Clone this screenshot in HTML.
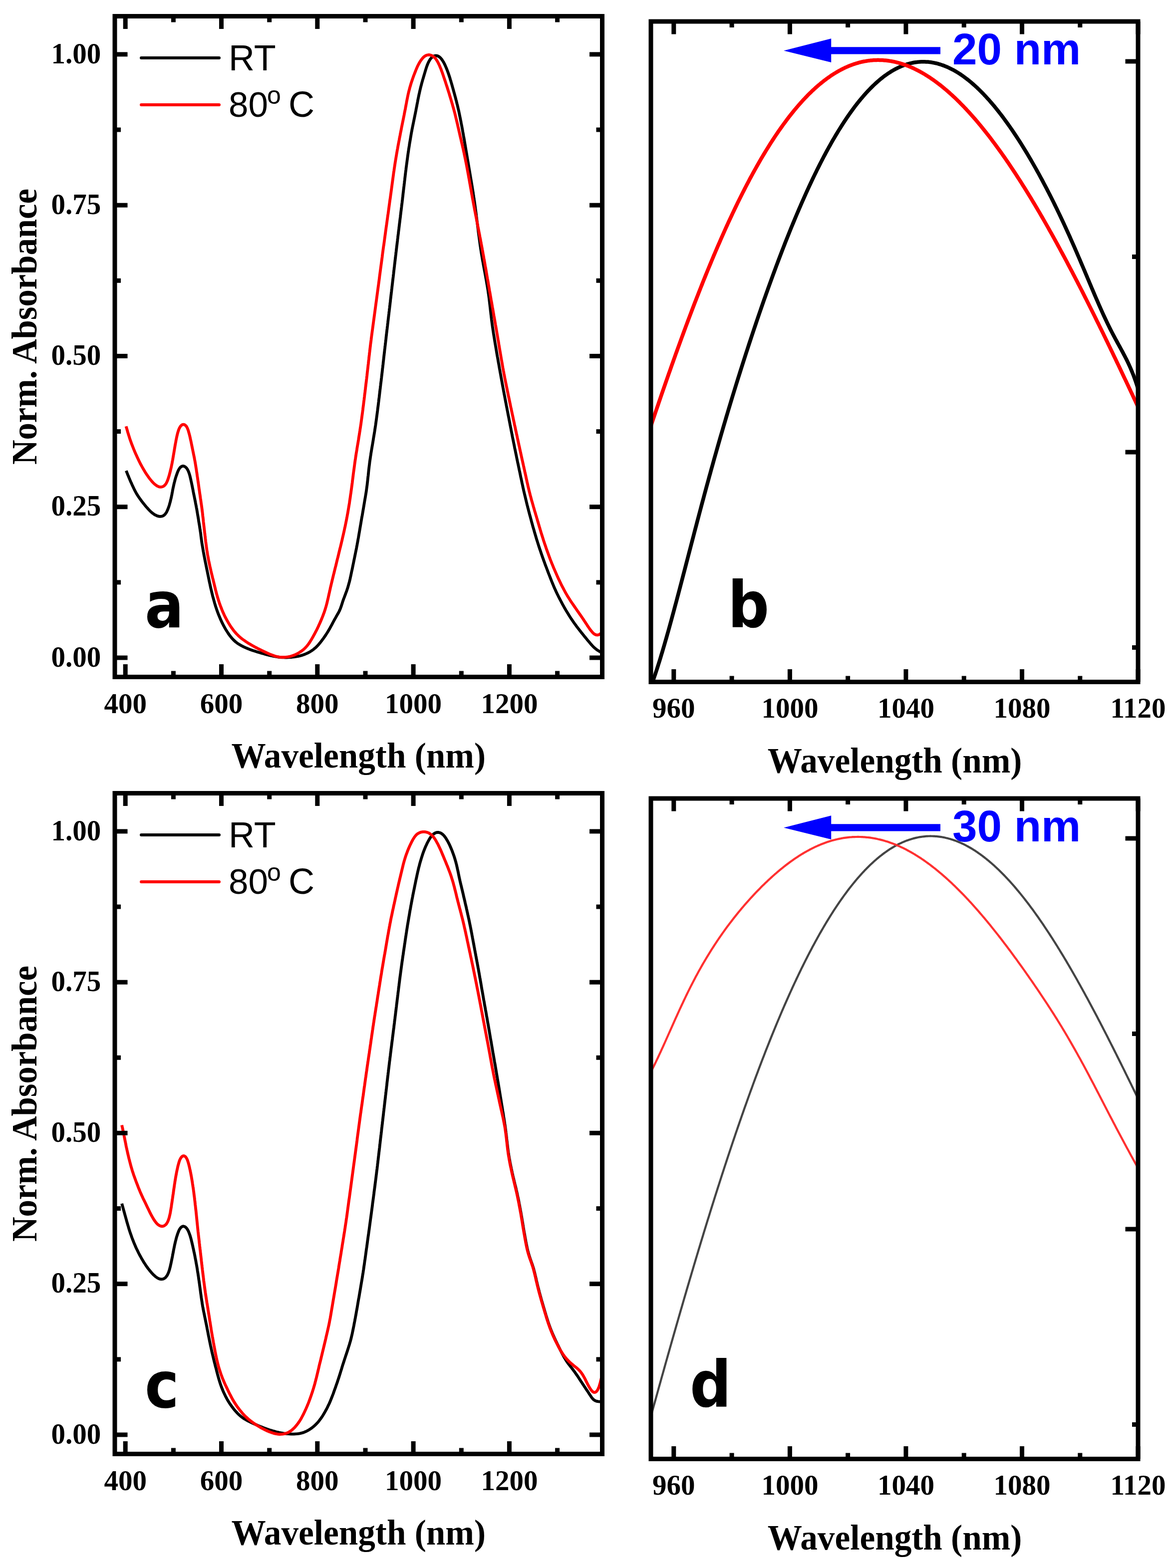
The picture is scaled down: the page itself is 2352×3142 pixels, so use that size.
<!DOCTYPE html><html><head><meta charset="utf-8"><style>html,body{margin:0;padding:0;background:#fff;}svg{display:block}</style></head><body><svg xmlns="http://www.w3.org/2000/svg" width="2352" height="3142" viewBox="0 0 2352 3142">
<rect width="100%" height="100%" fill="#fff"/>
<defs>
<clipPath id="ca"><rect x="230.0" y="32.5" width="976.5" height="1324.0"/></clipPath>
<clipPath id="cb"><rect x="1304.0" y="43.0" width="976.0" height="1323.5"/></clipPath>
<clipPath id="cc"><rect x="230.0" y="1589.5" width="976.5" height="1324.0"/></clipPath>
<clipPath id="cd"><rect x="1304.0" y="1600.0" width="976.0" height="1323.5"/></clipPath>
</defs>
<g clip-path="url(#ca)">
<path d="M252.8,943.2 L253.9,946.0 L255.0,948.8 L256.1,951.6 L257.3,954.3 L258.4,957.1 L259.6,959.9 L260.7,962.6 L261.9,965.4 L263.2,968.1 L264.4,970.9 L265.6,973.6 L266.9,976.3 L268.2,979.0 L269.5,981.7 L270.9,984.4 L272.3,987.0 L273.8,989.6 L275.4,992.1 L277.0,994.7 L278.7,997.2 L280.4,999.6 L282.2,1002.0 L284.0,1004.4 L285.8,1006.8 L287.7,1009.1 L289.6,1011.5 L291.5,1013.8 L293.4,1016.1 L295.4,1018.3 L297.4,1020.5 L299.5,1022.7 L301.6,1024.8 L303.8,1026.8 L306.1,1028.7 L308.5,1030.4 L311.0,1031.9 L313.7,1033.2 L316.3,1034.2 L319.1,1034.8 L321.8,1034.9 L324.4,1034.5 L326.8,1033.6 L329.0,1032.1 L330.9,1030.2 L332.6,1027.9 L334.1,1025.4 L335.3,1022.7 L336.5,1020.0 L337.5,1017.2 L338.5,1014.4 L339.4,1011.5 L340.2,1008.6 L341.0,1005.7 L341.7,1002.8 L342.4,999.9 L343.1,997.0 L343.7,994.0 L344.3,991.1 L344.8,988.2 L345.4,985.2 L345.9,982.3 L346.5,979.3 L347.1,976.4 L347.8,973.5 L348.4,970.5 L349.1,967.6 L349.9,964.7 L350.6,961.8 L351.4,958.9 L352.3,956.0 L353.2,953.2 L354.2,950.4 L355.2,947.5 L356.3,944.8 L357.5,942.1 L358.9,939.6 L360.5,937.4 L362.3,935.6 L364.3,934.4 L366.5,933.9 L368.7,934.2 L370.8,935.3 L372.8,936.9 L374.5,939.0 L376.0,941.4 L377.3,944.1 L378.4,946.8 L379.3,949.6 L380.2,952.5 L380.9,955.4 L381.6,958.3 L382.3,961.2 L382.9,964.1 L383.6,967.1 L384.2,970.0 L384.8,972.9 L385.4,975.9 L386.0,978.8 L386.6,981.8 L387.1,984.7 L387.7,987.7 L388.3,990.6 L388.9,993.5 L389.5,996.5 L390.1,999.4 L390.7,1002.4 L391.3,1005.3 L391.8,1008.2 L392.4,1011.2 L393.0,1014.1 L393.5,1017.1 L394.1,1020.0 L394.6,1023.0 L395.1,1025.9 L395.6,1028.9 L396.1,1031.9 L396.6,1034.8 L397.1,1037.8 L397.6,1040.7 L398.0,1043.7 L398.5,1046.7 L399.0,1049.6 L399.5,1052.6 L400.0,1055.5 L400.4,1058.5 L400.9,1061.5 L401.3,1064.4 L401.8,1067.4 L402.2,1070.4 L402.5,1073.4 L402.9,1076.3 L403.3,1079.3 L403.7,1082.3 L404.1,1085.3 L404.5,1088.2 L405.0,1091.2 L405.5,1094.2 L406.0,1097.1 L406.5,1100.1 L407.0,1103.0 L407.5,1106.0 L408.1,1108.9 L408.6,1111.9 L409.2,1114.8 L409.8,1117.8 L410.3,1120.7 L410.9,1123.6 L411.5,1126.6 L412.1,1129.5 L412.7,1132.5 L413.3,1135.4 L413.9,1138.4 L414.5,1141.3 L415.1,1144.2 L415.7,1147.2 L416.3,1150.1 L416.9,1153.0 L417.5,1156.0 L418.1,1158.9 L418.7,1161.9 L419.3,1164.8 L419.9,1167.7 L420.6,1170.7 L421.2,1173.6 L421.8,1176.5 L422.5,1179.5 L423.2,1182.4 L423.9,1185.3 L424.6,1188.2 L425.3,1191.1 L426.0,1194.0 L426.8,1196.9 L427.6,1199.8 L428.4,1202.7 L429.2,1205.6 L430.0,1208.5 L430.9,1211.4 L431.7,1214.2 L432.7,1217.1 L433.6,1219.9 L434.6,1222.8 L435.6,1225.6 L436.7,1228.4 L437.7,1231.2 L438.9,1234.0 L440.0,1236.7 L441.2,1239.5 L442.4,1242.2 L443.7,1245.0 L444.9,1247.7 L446.3,1250.4 L447.6,1253.0 L449.1,1255.7 L450.5,1258.3 L452.0,1260.9 L453.6,1263.5 L455.2,1266.0 L456.8,1268.5 L458.5,1271.0 L460.2,1273.4 L462.1,1275.8 L464.0,1278.1 L465.9,1280.3 L468.0,1282.5 L470.2,1284.5 L472.4,1286.5 L474.8,1288.3 L477.2,1290.0 L479.7,1291.6 L482.3,1293.1 L485.0,1294.5 L487.6,1295.9 L490.3,1297.1 L493.1,1298.4 L495.8,1299.5 L498.6,1300.6 L501.4,1301.7 L504.3,1302.7 L507.1,1303.7 L509.9,1304.6 L512.8,1305.5 L515.7,1306.4 L518.5,1307.2 L521.4,1308.1 L524.3,1308.9 L527.2,1309.7 L530.1,1310.6 L533.0,1311.4 L535.9,1312.2 L538.8,1312.9 L541.7,1313.6 L544.6,1314.3 L547.5,1315.0 L550.5,1315.5 L553.4,1316.0 L556.4,1316.5 L559.3,1316.8 L562.3,1317.1 L565.3,1317.3 L568.3,1317.4 L571.3,1317.5 L574.3,1317.5 L577.3,1317.4 L580.3,1317.2 L583.3,1317.0 L586.3,1316.7 L589.2,1316.3 L592.2,1315.9 L595.1,1315.4 L598.1,1314.9 L601.0,1314.2 L603.9,1313.4 L606.7,1312.5 L609.6,1311.5 L612.3,1310.4 L615.1,1309.2 L617.7,1307.9 L620.3,1306.5 L622.9,1304.9 L625.4,1303.3 L627.8,1301.5 L630.1,1299.6 L632.4,1297.7 L634.5,1295.6 L636.6,1293.4 L638.6,1291.2 L640.5,1288.9 L642.4,1286.6 L644.2,1284.2 L646.0,1281.8 L647.8,1279.4 L649.5,1277.0 L651.2,1274.5 L652.9,1272.0 L654.5,1269.5 L656.1,1266.9 L657.7,1264.4 L659.2,1261.8 L660.7,1259.2 L662.1,1256.6 L663.6,1253.9 L665.0,1251.3 L666.4,1248.6 L667.8,1246.0 L669.2,1243.4 L670.7,1240.7 L672.2,1238.1 L673.6,1235.5 L675.1,1232.9 L676.6,1230.3 L678.1,1227.7 L679.5,1225.0 L680.7,1222.3 L681.9,1219.6 L682.9,1216.8 L683.9,1214.0 L684.8,1211.1 L685.7,1208.3 L686.6,1205.4 L687.6,1202.6 L688.6,1199.8 L689.7,1197.0 L690.7,1194.2 L691.8,1191.4 L692.8,1188.6 L693.9,1185.7 L694.9,1182.9 L695.8,1180.1 L696.8,1177.2 L697.6,1174.3 L698.4,1171.5 L699.2,1168.6 L700.0,1165.7 L700.7,1162.8 L701.4,1159.8 L702.0,1156.9 L702.7,1154.0 L703.3,1151.0 L703.9,1148.1 L704.5,1145.2 L705.2,1142.2 L705.8,1139.3 L706.4,1136.4 L707.0,1133.4 L707.6,1130.5 L708.2,1127.6 L708.8,1124.6 L709.4,1121.7 L710.0,1118.7 L710.6,1115.8 L711.2,1112.9 L711.8,1109.9 L712.4,1107.0 L713.0,1104.0 L713.6,1101.1 L714.2,1098.1 L714.7,1095.2 L715.3,1092.3 L715.8,1089.3 L716.4,1086.4 L716.9,1083.4 L717.4,1080.5 L718.0,1077.5 L718.5,1074.5 L719.0,1071.6 L719.5,1068.6 L720.0,1065.7 L720.5,1062.7 L721.0,1059.8 L721.5,1056.8 L722.0,1053.8 L722.5,1050.9 L723.0,1047.9 L723.5,1045.0 L724.0,1042.0 L724.5,1039.1 L725.0,1036.1 L725.6,1033.1 L726.1,1030.2 L726.6,1027.2 L727.1,1024.3 L727.6,1021.3 L728.1,1018.4 L728.6,1015.4 L729.1,1012.4 L729.6,1009.5 L730.1,1006.5 L730.6,1003.6 L731.1,1000.6 L731.6,997.7 L732.1,994.7 L732.6,991.7 L733.1,988.8 L733.6,985.8 L734.0,982.9 L734.4,979.9 L734.8,976.9 L735.2,973.9 L735.6,971.0 L735.9,968.0 L736.3,965.0 L736.6,962.0 L736.9,959.0 L737.2,956.0 L737.6,953.1 L737.9,950.1 L738.2,947.1 L738.5,944.1 L738.8,941.1 L739.2,938.2 L739.5,935.2 L739.9,932.2 L740.3,929.2 L740.6,926.2 L741.0,923.3 L741.5,920.3 L741.9,917.3 L742.3,914.4 L742.8,911.4 L743.2,908.4 L743.7,905.5 L744.2,902.5 L744.7,899.6 L745.2,896.6 L745.7,893.6 L746.2,890.7 L746.7,887.7 L747.2,884.8 L747.7,881.8 L748.1,878.8 L748.6,875.9 L749.1,872.9 L749.6,870.0 L750.1,867.0 L750.6,864.0 L751.0,861.1 L751.5,858.1 L751.9,855.1 L752.4,852.2 L752.8,849.2 L753.2,846.2 L753.6,843.3 L754.0,840.3 L754.4,837.3 L754.8,834.3 L755.2,831.4 L755.6,828.4 L756.0,825.4 L756.4,822.4 L756.7,819.5 L757.1,816.5 L757.5,813.5 L757.9,810.5 L758.2,807.6 L758.6,804.6 L758.9,801.6 L759.3,798.6 L759.7,795.6 L760.0,792.7 L760.4,789.7 L760.7,786.7 L761.1,783.7 L761.4,780.7 L761.8,777.8 L762.1,774.8 L762.5,771.8 L762.8,768.8 L763.2,765.9 L763.6,762.9 L763.9,759.9 L764.3,756.9 L764.6,753.9 L765.0,751.0 L765.3,748.0 L765.7,745.0 L766.0,742.0 L766.3,739.0 L766.7,736.1 L767.0,733.1 L767.4,730.1 L767.7,727.1 L768.0,724.1 L768.4,721.2 L768.7,718.2 L769.0,715.2 L769.4,712.2 L769.7,709.2 L770.1,706.2 L770.4,703.3 L770.7,700.3 L771.1,697.3 L771.4,694.3 L771.8,691.3 L772.1,688.4 L772.5,685.4 L772.8,682.4 L773.2,679.4 L773.5,676.4 L773.8,673.5 L774.2,670.5 L774.5,667.5 L774.9,664.5 L775.2,661.5 L775.6,658.6 L775.9,655.6 L776.3,652.6 L776.6,649.6 L777.0,646.6 L777.3,643.7 L777.7,640.7 L778.0,637.7 L778.4,634.7 L778.7,631.7 L779.1,628.8 L779.4,625.8 L779.8,622.8 L780.1,619.8 L780.5,616.8 L780.8,613.9 L781.2,610.9 L781.5,607.9 L781.9,604.9 L782.2,601.9 L782.5,599.0 L782.9,596.0 L783.2,593.0 L783.6,590.0 L783.9,587.1 L784.3,584.1 L784.6,581.1 L785.0,578.1 L785.3,575.1 L785.7,572.2 L786.0,569.2 L786.4,566.2 L786.7,563.2 L787.1,560.2 L787.4,557.3 L787.8,554.3 L788.1,551.3 L788.5,548.3 L788.8,545.3 L789.1,542.4 L789.5,539.4 L789.8,536.4 L790.2,533.4 L790.5,530.4 L790.9,527.5 L791.2,524.5 L791.6,521.5 L791.9,518.5 L792.3,515.5 L792.6,512.6 L793.0,509.6 L793.3,506.6 L793.7,503.6 L794.0,500.6 L794.4,497.7 L794.7,494.7 L795.1,491.7 L795.5,488.7 L795.8,485.7 L796.2,482.8 L796.5,479.8 L796.9,476.8 L797.2,473.8 L797.6,470.9 L798.0,467.9 L798.3,464.9 L798.7,461.9 L799.1,458.9 L799.4,456.0 L799.8,453.0 L800.1,450.0 L800.5,447.0 L800.9,444.0 L801.2,441.1 L801.6,438.1 L802.0,435.1 L802.3,432.1 L802.7,429.2 L803.0,426.2 L803.4,423.2 L803.8,420.2 L804.1,417.2 L804.5,414.3 L804.8,411.3 L805.2,408.3 L805.6,405.3 L805.9,402.4 L806.3,399.4 L806.6,396.4 L807.0,393.4 L807.3,390.4 L807.6,387.5 L808.0,384.5 L808.3,381.5 L808.7,378.5 L809.0,375.5 L809.4,372.6 L809.7,369.6 L810.1,366.6 L810.4,363.6 L810.8,360.6 L811.1,357.7 L811.5,354.7 L811.8,351.7 L812.2,348.7 L812.5,345.7 L812.9,342.8 L813.3,339.8 L813.6,336.8 L814.0,333.8 L814.4,330.9 L814.8,327.9 L815.2,324.9 L815.6,321.9 L816.0,319.0 L816.4,316.0 L816.8,313.0 L817.2,310.0 L817.6,307.1 L818.1,304.1 L818.5,301.1 L818.9,298.2 L819.4,295.2 L819.9,292.2 L820.3,289.3 L820.8,286.3 L821.3,283.4 L821.8,280.4 L822.3,277.4 L822.8,274.5 L823.3,271.5 L823.8,268.6 L824.3,265.6 L824.9,262.7 L825.4,259.7 L826.0,256.8 L826.6,253.8 L827.2,250.9 L827.8,247.9 L828.4,245.0 L829.0,242.1 L829.6,239.1 L830.2,236.2 L830.8,233.3 L831.4,230.3 L832.0,227.4 L832.6,224.4 L833.2,221.5 L833.7,218.5 L834.3,215.6 L834.9,212.7 L835.4,209.7 L836.0,206.8 L836.6,203.8 L837.1,200.9 L837.7,197.9 L838.3,195.0 L838.9,192.1 L839.5,189.1 L840.2,186.2 L840.8,183.3 L841.5,180.3 L842.2,177.4 L842.9,174.5 L843.7,171.6 L844.4,168.7 L845.2,165.8 L846.0,162.9 L846.8,160.0 L847.7,157.1 L848.5,154.3 L849.4,151.4 L850.2,148.5 L851.1,145.6 L851.9,142.8 L852.8,139.9 L853.7,137.0 L854.6,134.2 L855.6,131.4 L856.7,128.6 L857.9,125.8 L859.2,123.2 L860.7,120.6 L862.3,118.2 L864.1,116.0 L866.2,114.1 L868.4,112.7 L870.8,111.8 L873.3,111.5 L875.8,111.8 L878.3,112.8 L880.5,114.2 L882.6,116.1 L884.5,118.3 L886.2,120.7 L887.8,123.2 L889.3,125.8 L890.6,128.4 L891.9,131.1 L893.1,133.9 L894.3,136.6 L895.4,139.4 L896.5,142.2 L897.5,145.0 L898.5,147.8 L899.5,150.7 L900.4,153.5 L901.4,156.4 L902.2,159.3 L903.1,162.1 L903.9,165.0 L904.8,167.9 L905.6,170.8 L906.4,173.7 L907.2,176.6 L908.0,179.4 L908.8,182.3 L909.6,185.2 L910.4,188.1 L911.2,191.0 L912.0,193.9 L912.8,196.8 L913.5,199.7 L914.3,202.6 L915.0,205.5 L915.7,208.4 L916.5,211.3 L917.2,214.3 L917.8,217.2 L918.5,220.1 L919.2,223.0 L919.8,226.0 L920.4,228.9 L921.0,231.8 L921.6,234.8 L922.2,237.7 L922.8,240.7 L923.4,243.6 L923.9,246.6 L924.5,249.5 L925.1,252.4 L925.6,255.4 L926.2,258.3 L926.7,261.3 L927.2,264.2 L927.8,267.2 L928.3,270.2 L928.8,273.1 L929.4,276.1 L929.9,279.0 L930.4,282.0 L930.9,284.9 L931.4,287.9 L931.9,290.8 L932.4,293.8 L932.9,296.8 L933.4,299.7 L933.9,302.7 L934.4,305.6 L934.9,308.6 L935.4,311.6 L935.9,314.5 L936.4,317.5 L936.9,320.4 L937.4,323.4 L937.9,326.3 L938.4,329.3 L938.9,332.3 L939.4,335.2 L939.9,338.2 L940.4,341.1 L940.9,344.1 L941.4,347.0 L941.9,350.0 L942.4,353.0 L942.9,355.9 L943.4,358.9 L943.9,361.8 L944.4,364.8 L944.9,367.8 L945.4,370.7 L945.9,373.7 L946.3,376.6 L946.8,379.6 L947.3,382.6 L947.8,385.5 L948.2,388.5 L948.7,391.5 L949.1,394.4 L949.6,397.4 L950.0,400.4 L950.5,403.3 L950.9,406.3 L951.3,409.3 L951.7,412.2 L952.1,415.2 L952.5,418.2 L952.9,421.2 L953.3,424.1 L953.7,427.1 L954.1,430.1 L954.4,433.1 L954.8,436.0 L955.2,439.0 L955.5,442.0 L955.9,445.0 L956.3,447.9 L956.7,450.9 L957.0,453.9 L957.4,456.9 L957.8,459.8 L958.1,462.8 L958.5,465.8 L958.9,468.8 L959.3,471.8 L959.7,474.7 L960.1,477.7 L960.5,480.7 L960.9,483.6 L961.3,486.6 L961.7,489.6 L962.1,492.6 L962.6,495.5 L963.0,498.5 L963.5,501.5 L963.9,504.4 L964.4,507.4 L964.9,510.3 L965.4,513.3 L965.9,516.3 L966.4,519.2 L966.9,522.2 L967.5,525.1 L968.0,528.1 L968.5,531.0 L969.1,534.0 L969.6,536.9 L970.2,539.9 L970.7,542.8 L971.3,545.8 L971.8,548.7 L972.4,551.7 L972.9,554.6 L973.4,557.6 L974.0,560.5 L974.5,563.5 L975.0,566.4 L975.5,569.4 L976.0,572.3 L976.5,575.3 L977.0,578.3 L977.5,581.2 L977.9,584.2 L978.3,587.2 L978.8,590.1 L979.2,593.1 L979.6,596.1 L980.0,599.1 L980.3,602.0 L980.7,605.0 L981.0,608.0 L981.4,611.0 L981.7,614.0 L982.1,616.9 L982.4,619.9 L982.7,622.9 L983.1,625.9 L983.4,628.9 L983.8,631.8 L984.1,634.8 L984.5,637.8 L984.8,640.8 L985.2,643.7 L985.6,646.7 L986.0,649.7 L986.4,652.7 L986.8,655.6 L987.3,658.6 L987.7,661.6 L988.2,664.5 L988.6,667.5 L989.1,670.5 L989.6,673.4 L990.1,676.4 L990.5,679.3 L991.0,682.3 L991.5,685.3 L992.0,688.2 L992.5,691.2 L993.0,694.1 L993.5,697.1 L994.0,700.1 L994.5,703.0 L995.0,706.0 L995.5,708.9 L996.0,711.9 L996.5,714.8 L997.1,717.8 L997.6,720.8 L998.1,723.7 L998.6,726.7 L999.2,729.6 L999.7,732.6 L1000.2,735.5 L1000.7,738.5 L1001.3,741.4 L1001.8,744.4 L1002.3,747.3 L1002.9,750.3 L1003.4,753.2 L1003.9,756.2 L1004.5,759.1 L1005.0,762.1 L1005.6,765.0 L1006.1,768.0 L1006.6,770.9 L1007.2,773.9 L1007.7,776.8 L1008.3,779.8 L1008.8,782.7 L1009.4,785.7 L1009.9,788.6 L1010.5,791.6 L1011.1,794.5 L1011.6,797.5 L1012.2,800.4 L1012.7,803.4 L1013.3,806.3 L1013.9,809.3 L1014.4,812.2 L1015.0,815.2 L1015.6,818.1 L1016.1,821.1 L1016.7,824.0 L1017.3,826.9 L1017.8,829.9 L1018.4,832.8 L1019.0,835.8 L1019.6,838.7 L1020.1,841.7 L1020.7,844.6 L1021.3,847.6 L1021.8,850.5 L1022.4,853.4 L1023.0,856.4 L1023.6,859.3 L1024.1,862.3 L1024.7,865.2 L1025.3,868.2 L1025.9,871.1 L1026.4,874.1 L1027.0,877.0 L1027.6,879.9 L1028.2,882.9 L1028.8,885.8 L1029.4,888.8 L1030.0,891.7 L1030.6,894.7 L1031.1,897.6 L1031.8,900.5 L1032.4,903.5 L1033.0,906.4 L1033.6,909.3 L1034.2,912.3 L1034.8,915.2 L1035.4,918.2 L1036.0,921.1 L1036.6,924.0 L1037.2,927.0 L1037.9,929.9 L1038.5,932.8 L1039.1,935.8 L1039.7,938.7 L1040.3,941.6 L1041.0,944.6 L1041.6,947.5 L1042.2,950.4 L1042.8,953.4 L1043.4,956.3 L1044.1,959.3 L1044.7,962.2 L1045.3,965.1 L1045.9,968.1 L1046.6,971.0 L1047.2,973.9 L1047.8,976.9 L1048.5,979.8 L1049.1,982.7 L1049.8,985.6 L1050.5,988.6 L1051.2,991.5 L1051.9,994.4 L1052.6,997.3 L1053.3,1000.2 L1054.0,1003.1 L1054.7,1006.1 L1055.4,1009.0 L1056.1,1011.9 L1056.9,1014.8 L1057.6,1017.7 L1058.4,1020.6 L1059.1,1023.5 L1059.9,1026.4 L1060.6,1029.3 L1061.4,1032.2 L1062.2,1035.1 L1063.0,1038.0 L1063.8,1040.9 L1064.5,1043.8 L1065.3,1046.7 L1066.1,1049.6 L1066.9,1052.5 L1067.7,1055.4 L1068.5,1058.2 L1069.4,1061.1 L1070.2,1064.0 L1071.0,1066.9 L1071.9,1069.8 L1072.7,1072.7 L1073.6,1075.5 L1074.4,1078.4 L1075.3,1081.3 L1076.2,1084.1 L1077.1,1087.0 L1078.0,1089.9 L1078.9,1092.7 L1079.8,1095.6 L1080.8,1098.4 L1081.7,1101.3 L1082.7,1104.1 L1083.7,1107.0 L1084.6,1109.8 L1085.6,1112.6 L1086.6,1115.5 L1087.6,1118.3 L1088.6,1121.1 L1089.6,1123.9 L1090.7,1126.7 L1091.7,1129.6 L1092.7,1132.4 L1093.8,1135.2 L1094.9,1138.0 L1095.9,1140.8 L1097.0,1143.6 L1098.0,1146.4 L1099.1,1149.2 L1100.2,1152.0 L1101.3,1154.8 L1102.4,1157.6 L1103.5,1160.4 L1104.6,1163.2 L1105.7,1166.0 L1106.8,1168.7 L1108.0,1171.5 L1109.1,1174.3 L1110.3,1177.0 L1111.5,1179.8 L1112.8,1182.5 L1114.0,1185.2 L1115.3,1187.9 L1116.6,1190.7 L1117.9,1193.3 L1119.2,1196.0 L1120.6,1198.7 L1122.0,1201.4 L1123.4,1204.0 L1124.8,1206.7 L1126.2,1209.3 L1127.6,1212.0 L1129.1,1214.6 L1130.5,1217.2 L1132.0,1219.8 L1133.5,1222.4 L1135.1,1225.0 L1136.6,1227.5 L1138.2,1230.1 L1139.8,1232.7 L1141.4,1235.2 L1143.0,1237.7 L1144.6,1240.2 L1146.3,1242.7 L1148.0,1245.2 L1149.7,1247.6 L1151.5,1250.1 L1153.3,1252.5 L1155.0,1254.9 L1156.8,1257.3 L1158.7,1259.7 L1160.5,1262.1 L1162.4,1264.4 L1164.2,1266.8 L1166.1,1269.1 L1168.0,1271.5 L1169.8,1273.8 L1171.7,1276.1 L1173.6,1278.4 L1175.5,1280.8 L1177.4,1283.1 L1179.4,1285.4 L1181.3,1287.7 L1183.2,1290.0 L1185.2,1292.2 L1187.2,1294.4 L1189.3,1296.6 L1191.5,1298.6 L1193.8,1300.5 L1196.1,1302.3 L1198.6,1303.9 L1201.2,1305.5 L1203.8,1306.9 L1206.5,1308.3 L1209.1,1309.6 L1209.1,1309.6" fill="none" stroke="#000000" stroke-width="5.8" stroke-linejoin="round" stroke-linecap="butt"/>
<path d="M252.6,854.3 L253.4,857.2 L254.3,860.1 L255.1,862.9 L255.9,865.8 L256.8,868.7 L257.7,871.6 L258.6,874.4 L259.5,877.3 L260.4,880.1 L261.4,883.0 L262.4,885.8 L263.4,888.6 L264.5,891.4 L265.6,894.2 L266.7,897.0 L267.8,899.8 L269.0,902.6 L270.1,905.3 L271.3,908.1 L272.5,910.8 L273.8,913.5 L275.0,916.3 L276.3,919.0 L277.6,921.7 L278.9,924.4 L280.2,927.1 L281.6,929.8 L283.0,932.4 L284.4,935.0 L285.9,937.7 L287.4,940.3 L288.9,942.8 L290.5,945.4 L292.0,947.9 L293.7,950.5 L295.4,952.9 L297.1,955.4 L298.8,957.8 L300.7,960.2 L302.6,962.5 L304.5,964.8 L306.5,967.0 L308.7,969.1 L310.9,971.0 L313.2,972.8 L315.6,974.2 L318.2,975.3 L320.8,975.8 L323.3,975.8 L325.8,975.2 L328.1,974.0 L330.1,972.3 L331.9,970.2 L333.4,967.8 L334.7,965.1 L335.8,962.4 L336.8,959.6 L337.7,956.7 L338.6,953.9 L339.4,951.0 L340.2,948.1 L340.9,945.2 L341.6,942.3 L342.3,939.4 L343.0,936.4 L343.6,933.5 L344.2,930.6 L344.8,927.6 L345.3,924.7 L345.9,921.7 L346.4,918.8 L346.9,915.8 L347.4,912.8 L347.9,909.9 L348.4,906.9 L348.9,904.0 L349.4,901.0 L349.9,898.0 L350.4,895.1 L350.9,892.1 L351.4,889.2 L352.0,886.2 L352.5,883.3 L353.1,880.3 L353.7,877.4 L354.3,874.5 L355.0,871.5 L355.7,868.6 L356.5,865.8 L357.4,862.9 L358.4,860.1 L359.6,857.5 L361.0,855.1 L362.6,853.0 L364.4,851.5 L366.4,850.6 L368.5,850.6 L370.4,851.4 L372.2,852.9 L373.8,854.9 L375.1,857.3 L376.2,860.0 L377.2,862.8 L378.0,865.6 L378.8,868.5 L379.6,871.4 L380.3,874.3 L381.0,877.3 L381.6,880.2 L382.3,883.1 L382.9,886.0 L383.5,889.0 L384.1,891.9 L384.7,894.9 L385.3,897.8 L385.9,900.7 L386.5,903.7 L387.1,906.6 L387.7,909.6 L388.3,912.5 L388.9,915.4 L389.5,918.4 L390.0,921.3 L390.6,924.3 L391.1,927.2 L391.6,930.2 L392.1,933.2 L392.5,936.1 L393.0,939.1 L393.5,942.1 L393.9,945.0 L394.4,948.0 L394.8,951.0 L395.2,953.9 L395.7,956.9 L396.1,959.9 L396.5,962.8 L396.9,965.8 L397.4,968.8 L397.8,971.7 L398.2,974.7 L398.6,977.7 L399.0,980.6 L399.5,983.6 L399.9,986.6 L400.3,989.6 L400.8,992.5 L401.2,995.5 L401.6,998.5 L402.1,1001.4 L402.5,1004.4 L402.9,1007.4 L403.3,1010.3 L403.8,1013.3 L404.2,1016.3 L404.6,1019.3 L404.9,1022.2 L405.3,1025.2 L405.7,1028.2 L406.0,1031.2 L406.3,1034.1 L406.7,1037.1 L407.0,1040.1 L407.3,1043.1 L407.6,1046.1 L408.0,1049.1 L408.3,1052.0 L408.6,1055.0 L409.0,1058.0 L409.3,1061.0 L409.7,1064.0 L410.0,1066.9 L410.4,1069.9 L410.7,1072.9 L411.1,1075.9 L411.4,1078.9 L411.8,1081.8 L412.1,1084.8 L412.5,1087.8 L412.9,1090.8 L413.3,1093.7 L413.7,1096.7 L414.1,1099.7 L414.5,1102.7 L415.0,1105.6 L415.5,1108.6 L415.9,1111.5 L416.5,1114.5 L417.0,1117.4 L417.6,1120.4 L418.1,1123.3 L418.7,1126.3 L419.4,1129.2 L420.0,1132.1 L420.6,1135.1 L421.3,1138.0 L422.0,1140.9 L422.6,1143.8 L423.3,1146.8 L424.0,1149.7 L424.7,1152.6 L425.4,1155.5 L426.1,1158.4 L426.9,1161.3 L427.6,1164.3 L428.3,1167.2 L429.0,1170.1 L429.7,1173.0 L430.4,1175.9 L431.1,1178.8 L431.8,1181.7 L432.6,1184.7 L433.3,1187.6 L434.1,1190.5 L434.9,1193.3 L435.7,1196.2 L436.6,1199.1 L437.5,1202.0 L438.4,1204.8 L439.3,1207.7 L440.3,1210.5 L441.3,1213.3 L442.4,1216.1 L443.5,1218.9 L444.6,1221.7 L445.7,1224.5 L446.9,1227.2 L448.2,1230.0 L449.4,1232.7 L450.7,1235.4 L452.1,1238.1 L453.5,1240.7 L454.9,1243.3 L456.4,1245.9 L457.9,1248.5 L459.5,1251.1 L461.1,1253.6 L462.8,1256.1 L464.5,1258.6 L466.3,1261.0 L468.1,1263.4 L469.9,1265.7 L471.9,1268.0 L473.9,1270.2 L476.0,1272.3 L478.1,1274.4 L480.3,1276.4 L482.6,1278.4 L485.0,1280.2 L487.4,1282.0 L489.8,1283.7 L492.3,1285.4 L494.8,1287.1 L497.3,1288.7 L499.9,1290.2 L502.5,1291.8 L505.0,1293.3 L507.7,1294.7 L510.3,1296.2 L513.0,1297.6 L515.6,1299.0 L518.3,1300.3 L521.0,1301.7 L523.7,1303.0 L526.4,1304.3 L529.1,1305.6 L531.8,1306.9 L534.5,1308.2 L537.2,1309.4 L540.0,1310.6 L542.7,1311.8 L545.5,1312.8 L548.3,1313.8 L551.2,1314.7 L554.1,1315.5 L557.0,1316.1 L559.9,1316.6 L562.9,1316.9 L565.8,1317.0 L568.8,1317.0 L571.8,1316.9 L574.8,1316.5 L577.7,1316.1 L580.6,1315.5 L583.5,1314.7 L586.4,1313.8 L589.2,1312.8 L591.9,1311.6 L594.6,1310.4 L597.2,1309.0 L599.8,1307.4 L602.3,1305.8 L604.7,1304.1 L607.1,1302.3 L609.3,1300.3 L611.5,1298.3 L613.5,1296.1 L615.5,1293.8 L617.3,1291.5 L619.1,1289.1 L620.7,1286.6 L622.3,1284.0 L623.9,1281.5 L625.4,1278.9 L626.9,1276.3 L628.3,1273.7 L629.8,1271.0 L631.2,1268.4 L632.6,1265.7 L634.0,1263.1 L635.3,1260.4 L636.6,1257.7 L637.9,1255.0 L639.1,1252.2 L640.4,1249.5 L641.6,1246.8 L642.8,1244.0 L643.9,1241.3 L645.1,1238.5 L646.2,1235.7 L647.3,1232.9 L648.3,1230.1 L649.4,1227.3 L650.3,1224.4 L651.3,1221.6 L652.1,1218.7 L653.0,1215.8 L653.8,1213.0 L654.6,1210.1 L655.3,1207.2 L656.0,1204.2 L656.7,1201.3 L657.4,1198.4 L658.0,1195.5 L658.7,1192.5 L659.3,1189.6 L660.0,1186.7 L660.6,1183.8 L661.3,1180.8 L661.9,1177.9 L662.6,1175.0 L663.3,1172.1 L664.0,1169.1 L664.7,1166.2 L665.4,1163.3 L666.1,1160.4 L666.8,1157.5 L667.5,1154.6 L668.2,1151.6 L669.0,1148.7 L669.7,1145.8 L670.4,1142.9 L671.1,1140.0 L671.8,1137.1 L672.6,1134.2 L673.3,1131.3 L674.0,1128.3 L674.7,1125.4 L675.4,1122.5 L676.1,1119.6 L676.9,1116.7 L677.6,1113.8 L678.3,1110.9 L679.0,1107.9 L679.7,1105.0 L680.4,1102.1 L681.1,1099.2 L681.9,1096.3 L682.6,1093.4 L683.3,1090.5 L684.0,1087.5 L684.7,1084.6 L685.4,1081.7 L686.0,1078.8 L686.7,1075.9 L687.4,1072.9 L688.1,1070.0 L688.7,1067.1 L689.4,1064.2 L690.0,1061.2 L690.6,1058.3 L691.3,1055.4 L691.9,1052.4 L692.5,1049.5 L693.1,1046.5 L693.7,1043.6 L694.3,1040.7 L694.8,1037.7 L695.4,1034.8 L695.9,1031.8 L696.5,1028.9 L697.0,1025.9 L697.5,1023.0 L698.0,1020.0 L698.5,1017.1 L699.0,1014.1 L699.5,1011.1 L700.0,1008.2 L700.4,1005.2 L700.8,1002.2 L701.3,999.3 L701.7,996.3 L702.1,993.3 L702.5,990.4 L703.0,987.4 L703.4,984.4 L703.8,981.4 L704.2,978.5 L704.6,975.5 L705.0,972.5 L705.4,969.5 L705.8,966.6 L706.1,963.6 L706.5,960.6 L706.9,957.6 L707.3,954.7 L707.6,951.7 L708.0,948.7 L708.4,945.7 L708.8,942.8 L709.2,939.8 L709.6,936.8 L710.0,933.8 L710.4,930.9 L710.8,927.9 L711.2,924.9 L711.6,922.0 L712.1,919.0 L712.5,916.0 L713.0,913.1 L713.4,910.1 L713.9,907.1 L714.4,904.2 L714.9,901.2 L715.3,898.2 L715.8,895.3 L716.3,892.3 L716.8,889.4 L717.3,886.4 L717.8,883.4 L718.3,880.5 L718.7,877.5 L719.2,874.6 L719.7,871.6 L720.2,868.6 L720.6,865.7 L721.1,862.7 L721.5,859.7 L722.0,856.8 L722.4,853.8 L722.9,850.8 L723.3,847.9 L723.7,844.9 L724.1,841.9 L724.5,839.0 L724.9,836.0 L725.3,833.0 L725.7,830.0 L726.1,827.1 L726.5,824.1 L726.9,821.1 L727.2,818.1 L727.6,815.2 L728.0,812.2 L728.4,809.2 L728.7,806.2 L729.1,803.2 L729.5,800.3 L729.8,797.3 L730.2,794.3 L730.5,791.3 L730.9,788.4 L731.3,785.4 L731.6,782.4 L732.0,779.4 L732.3,776.4 L732.7,773.5 L733.0,770.5 L733.4,767.5 L733.8,764.5 L734.1,761.5 L734.5,758.6 L734.8,755.6 L735.2,752.6 L735.5,749.6 L735.8,746.6 L736.2,743.7 L736.5,740.7 L736.9,737.7 L737.2,734.7 L737.5,731.7 L737.9,728.8 L738.2,725.8 L738.5,722.8 L738.9,719.8 L739.2,716.8 L739.5,713.9 L739.9,710.9 L740.2,707.9 L740.6,704.9 L740.9,701.9 L741.3,699.0 L741.6,696.0 L742.0,693.0 L742.3,690.0 L742.7,687.0 L743.1,684.1 L743.5,681.1 L743.8,678.1 L744.2,675.1 L744.6,672.2 L745.0,669.2 L745.4,666.2 L745.8,663.2 L746.2,660.3 L746.6,657.3 L747.0,654.3 L747.4,651.3 L747.8,648.4 L748.2,645.4 L748.6,642.4 L749.0,639.5 L749.4,636.5 L749.8,633.5 L750.2,630.5 L750.6,627.6 L751.0,624.6 L751.4,621.6 L751.8,618.6 L752.2,615.7 L752.6,612.7 L753.0,609.7 L753.4,606.7 L753.8,603.8 L754.2,600.8 L754.6,597.8 L755.0,594.9 L755.4,591.9 L755.8,588.9 L756.2,585.9 L756.6,583.0 L757.0,580.0 L757.4,577.0 L757.8,574.0 L758.2,571.1 L758.6,568.1 L759.0,565.1 L759.4,562.1 L759.8,559.2 L760.2,556.2 L760.5,553.2 L760.9,550.3 L761.3,547.3 L761.7,544.3 L762.1,541.3 L762.5,538.4 L762.9,535.4 L763.3,532.4 L763.7,529.4 L764.1,526.5 L764.5,523.5 L764.9,520.5 L765.3,517.5 L765.7,514.6 L766.0,511.6 L766.4,508.6 L766.8,505.6 L767.2,502.7 L767.6,499.7 L768.0,496.7 L768.4,493.7 L768.9,490.8 L769.3,487.8 L769.7,484.8 L770.1,481.9 L770.5,478.9 L770.9,475.9 L771.3,472.9 L771.7,470.0 L772.1,467.0 L772.5,464.0 L772.9,461.1 L773.3,458.1 L773.7,455.1 L774.2,452.1 L774.6,449.2 L775.0,446.2 L775.4,443.2 L775.8,440.3 L776.2,437.3 L776.6,434.3 L777.0,431.3 L777.5,428.4 L777.9,425.4 L778.3,422.4 L778.7,419.5 L779.1,416.5 L779.5,413.5 L779.9,410.5 L780.3,407.6 L780.7,404.6 L781.1,401.6 L781.6,398.6 L782.0,395.7 L782.4,392.7 L782.8,389.7 L783.2,386.8 L783.6,383.8 L784.0,380.8 L784.4,377.8 L784.8,374.9 L785.2,371.9 L785.6,368.9 L786.0,365.9 L786.4,363.0 L786.8,360.0 L787.2,357.0 L787.6,354.1 L788.0,351.1 L788.4,348.1 L788.8,345.1 L789.3,342.2 L789.7,339.2 L790.1,336.2 L790.6,333.3 L791.0,330.3 L791.5,327.3 L791.9,324.4 L792.4,321.4 L792.9,318.4 L793.4,315.5 L793.9,312.5 L794.4,309.6 L794.9,306.6 L795.4,303.7 L795.9,300.7 L796.5,297.8 L797.0,294.8 L797.5,291.9 L798.1,288.9 L798.6,286.0 L799.2,283.0 L799.8,280.1 L800.3,277.1 L800.9,274.2 L801.5,271.2 L802.0,268.3 L802.6,265.3 L803.2,262.4 L803.8,259.4 L804.3,256.5 L804.9,253.6 L805.5,250.6 L806.1,247.7 L806.7,244.7 L807.3,241.8 L807.9,238.9 L808.5,235.9 L809.1,233.0 L809.7,230.0 L810.2,227.1 L810.8,224.1 L811.4,221.2 L812.0,218.3 L812.5,215.3 L813.1,212.4 L813.6,209.4 L814.2,206.5 L814.7,203.5 L815.3,200.6 L815.9,197.6 L816.5,194.7 L817.1,191.7 L817.7,188.8 L818.4,185.9 L819.1,183.0 L819.9,180.1 L820.6,177.2 L821.4,174.3 L822.3,171.4 L823.1,168.5 L824.0,165.7 L825.0,162.8 L825.9,160.0 L826.9,157.1 L827.9,154.3 L828.9,151.5 L830.0,148.7 L831.1,145.9 L832.2,143.1 L833.3,140.3 L834.4,137.6 L835.6,134.8 L836.9,132.1 L838.2,129.4 L839.6,126.8 L841.1,124.2 L842.7,121.7 L844.5,119.3 L846.3,117.0 L848.3,114.8 L850.4,113.0 L852.8,111.5 L855.3,110.5 L857.9,110.0 L860.6,110.0 L863.2,110.6 L865.8,111.7 L868.1,113.2 L870.3,115.0 L872.3,117.1 L874.0,119.4 L875.6,121.9 L877.1,124.5 L878.5,127.2 L879.8,129.9 L881.0,132.6 L882.1,135.4 L883.3,138.1 L884.3,140.9 L885.4,143.8 L886.4,146.6 L887.4,149.4 L888.3,152.2 L889.3,155.1 L890.3,157.9 L891.2,160.8 L892.2,163.6 L893.1,166.5 L894.0,169.3 L895.0,172.2 L895.9,175.0 L896.8,177.9 L897.7,180.8 L898.6,183.6 L899.5,186.5 L900.4,189.4 L901.2,192.2 L902.1,195.1 L903.0,198.0 L903.8,200.8 L904.7,203.7 L905.5,206.6 L906.4,209.5 L907.2,212.4 L908.0,215.2 L908.8,218.1 L909.6,221.0 L910.4,223.9 L911.2,226.8 L911.9,229.7 L912.6,232.6 L913.3,235.6 L914.0,238.5 L914.7,241.4 L915.4,244.3 L916.1,247.2 L916.8,250.2 L917.4,253.1 L918.1,256.0 L918.8,258.9 L919.4,261.9 L920.1,264.8 L920.8,267.7 L921.4,270.6 L922.1,273.6 L922.8,276.5 L923.5,279.4 L924.1,282.3 L924.8,285.2 L925.5,288.2 L926.2,291.1 L926.8,294.0 L927.5,296.9 L928.2,299.9 L928.8,302.8 L929.5,305.7 L930.1,308.7 L930.7,311.6 L931.3,314.5 L931.9,317.5 L932.6,320.4 L933.1,323.3 L933.7,326.3 L934.3,329.2 L934.9,332.2 L935.4,335.1 L936.0,338.1 L936.5,341.0 L937.1,344.0 L937.6,346.9 L938.2,349.9 L938.7,352.8 L939.2,355.8 L939.8,358.7 L940.3,361.7 L940.8,364.6 L941.3,367.6 L941.9,370.5 L942.4,373.5 L942.9,376.4 L943.5,379.4 L944.0,382.4 L944.5,385.3 L945.0,388.3 L945.6,391.2 L946.1,394.2 L946.6,397.1 L947.2,400.1 L947.7,403.0 L948.3,406.0 L948.8,408.9 L949.4,411.9 L949.9,414.8 L950.5,417.8 L951.0,420.7 L951.6,423.7 L952.2,426.6 L952.7,429.5 L953.3,432.5 L953.9,435.4 L954.5,438.4 L955.0,441.3 L955.6,444.3 L956.2,447.2 L956.7,450.2 L957.3,453.1 L957.9,456.0 L958.5,459.0 L959.0,461.9 L959.6,464.9 L960.2,467.8 L960.8,470.8 L961.3,473.7 L961.9,476.7 L962.5,479.6 L963.0,482.6 L963.6,485.5 L964.1,488.5 L964.7,491.4 L965.2,494.4 L965.8,497.3 L966.3,500.3 L966.9,503.2 L967.4,506.2 L967.9,509.1 L968.5,512.1 L969.0,515.0 L969.5,518.0 L970.1,520.9 L970.6,523.9 L971.1,526.8 L971.6,529.8 L972.1,532.7 L972.7,535.7 L973.2,538.6 L973.7,541.6 L974.2,544.6 L974.7,547.5 L975.2,550.5 L975.7,553.4 L976.2,556.4 L976.7,559.3 L977.3,562.3 L977.8,565.3 L978.3,568.2 L978.8,571.2 L979.3,574.1 L979.8,577.1 L980.3,580.0 L980.8,583.0 L981.4,585.9 L981.9,588.9 L982.4,591.9 L982.9,594.8 L983.4,597.8 L983.9,600.7 L984.5,603.7 L985.0,606.6 L985.5,609.6 L986.0,612.5 L986.5,615.5 L987.1,618.4 L987.6,621.4 L988.1,624.4 L988.6,627.3 L989.1,630.3 L989.6,633.2 L990.2,636.2 L990.7,639.1 L991.2,642.1 L991.7,645.0 L992.2,648.0 L992.7,651.0 L993.3,653.9 L993.8,656.9 L994.3,659.8 L994.8,662.8 L995.3,665.7 L995.8,668.7 L996.3,671.6 L996.8,674.6 L997.3,677.6 L997.8,680.5 L998.4,683.5 L998.9,686.4 L999.3,689.4 L999.8,692.3 L1000.3,695.3 L1000.8,698.3 L1001.3,701.2 L1001.8,704.2 L1002.3,707.1 L1002.8,710.1 L1003.3,713.1 L1003.8,716.0 L1004.3,719.0 L1004.8,721.9 L1005.4,724.9 L1005.9,727.8 L1006.4,730.8 L1006.9,733.7 L1007.4,736.7 L1008.0,739.7 L1008.5,742.6 L1009.1,745.6 L1009.6,748.5 L1010.2,751.4 L1010.8,754.4 L1011.3,757.3 L1011.9,760.3 L1012.5,763.2 L1013.1,766.2 L1013.7,769.1 L1014.3,772.0 L1014.9,775.0 L1015.5,777.9 L1016.1,780.9 L1016.7,783.8 L1017.3,786.7 L1017.9,789.7 L1018.5,792.6 L1019.1,795.5 L1019.8,798.5 L1020.4,801.4 L1021.0,804.4 L1021.6,807.3 L1022.2,810.2 L1022.8,813.2 L1023.4,816.1 L1024.1,819.0 L1024.7,822.0 L1025.3,824.9 L1025.9,827.8 L1026.5,830.8 L1027.2,833.7 L1027.8,836.6 L1028.4,839.6 L1029.0,842.5 L1029.7,845.5 L1030.3,848.4 L1030.9,851.3 L1031.6,854.3 L1032.2,857.2 L1032.8,860.1 L1033.4,863.0 L1034.1,866.0 L1034.7,868.9 L1035.4,871.8 L1036.0,874.8 L1036.6,877.7 L1037.3,880.6 L1037.9,883.6 L1038.5,886.5 L1039.2,889.4 L1039.8,892.4 L1040.5,895.3 L1041.1,898.2 L1041.7,901.2 L1042.4,904.1 L1043.0,907.0 L1043.7,910.0 L1044.3,912.9 L1044.9,915.8 L1045.6,918.7 L1046.2,921.7 L1046.9,924.6 L1047.5,927.5 L1048.2,930.5 L1048.8,933.4 L1049.5,936.3 L1050.1,939.2 L1050.8,942.2 L1051.4,945.1 L1052.1,948.0 L1052.7,951.0 L1053.4,953.9 L1054.0,956.8 L1054.6,959.8 L1055.3,962.7 L1055.9,965.6 L1056.6,968.5 L1057.3,971.5 L1057.9,974.4 L1058.6,977.3 L1059.3,980.2 L1060.0,983.1 L1060.7,986.1 L1061.5,989.0 L1062.2,991.9 L1063.0,994.8 L1063.8,997.7 L1064.5,1000.6 L1065.3,1003.5 L1066.2,1006.3 L1067.0,1009.2 L1067.8,1012.1 L1068.6,1015.0 L1069.5,1017.9 L1070.3,1020.8 L1071.1,1023.6 L1072.0,1026.5 L1072.9,1029.4 L1073.7,1032.3 L1074.6,1035.1 L1075.4,1038.0 L1076.3,1040.9 L1077.1,1043.8 L1078.0,1046.7 L1078.8,1049.5 L1079.7,1052.4 L1080.5,1055.3 L1081.4,1058.2 L1082.2,1061.0 L1083.1,1063.9 L1083.9,1066.8 L1084.8,1069.7 L1085.7,1072.5 L1086.6,1075.4 L1087.5,1078.2 L1088.4,1081.1 L1089.3,1084.0 L1090.3,1086.8 L1091.2,1089.6 L1092.2,1092.5 L1093.2,1095.3 L1094.1,1098.2 L1095.1,1101.0 L1096.1,1103.8 L1097.1,1106.6 L1098.2,1109.5 L1099.2,1112.3 L1100.2,1115.1 L1101.3,1117.9 L1102.3,1120.7 L1103.4,1123.5 L1104.5,1126.3 L1105.6,1129.1 L1106.8,1131.9 L1107.9,1134.6 L1109.0,1137.4 L1110.2,1140.2 L1111.4,1142.9 L1112.6,1145.7 L1113.8,1148.4 L1115.0,1151.2 L1116.2,1153.9 L1117.5,1156.7 L1118.7,1159.4 L1120.0,1162.1 L1121.3,1164.8 L1122.6,1167.5 L1123.9,1170.2 L1125.2,1172.9 L1126.6,1175.6 L1128.0,1178.2 L1129.4,1180.9 L1130.8,1183.5 L1132.2,1186.1 L1133.7,1188.8 L1135.2,1191.4 L1136.7,1193.9 L1138.3,1196.5 L1139.9,1199.0 L1141.5,1201.6 L1143.1,1204.1 L1144.8,1206.6 L1146.5,1209.1 L1148.2,1211.5 L1149.9,1214.0 L1151.6,1216.5 L1153.3,1218.9 L1155.0,1221.4 L1156.7,1223.9 L1158.5,1226.3 L1160.2,1228.8 L1161.9,1231.2 L1163.6,1233.7 L1165.3,1236.2 L1167.0,1238.6 L1168.7,1241.1 L1170.3,1243.6 L1172.0,1246.1 L1173.6,1248.6 L1175.3,1251.1 L1176.9,1253.7 L1178.6,1256.1 L1180.3,1258.6 L1182.0,1261.1 L1183.8,1263.4 L1185.7,1265.7 L1187.6,1267.9 L1189.7,1269.8 L1191.9,1271.2 L1194.3,1272.2 L1196.7,1272.5 L1199.1,1272.1 L1201.4,1271.0 L1203.6,1269.5 L1205.6,1267.5 L1207.5,1265.3 L1209.3,1263.0 L1209.9,1262.2" fill="none" stroke="#ff0000" stroke-width="5.8" stroke-linejoin="round" stroke-linecap="butt"/>
</g>
<g clip-path="url(#cb)">
<path d="M1309.0,1362.0 L1311.0,1356.1 L1313.0,1350.2 L1315.0,1344.1 L1317.0,1338.0 L1319.0,1331.7 L1321.0,1325.3 L1323.0,1318.8 L1325.0,1312.2 L1327.0,1305.6 L1329.0,1298.8 L1331.0,1292.0 L1333.0,1285.0 L1335.0,1278.1 L1337.0,1271.0 L1339.0,1263.9 L1341.0,1256.7 L1343.0,1249.5 L1345.0,1242.2 L1347.0,1234.8 L1349.0,1227.5 L1351.0,1220.0 L1353.0,1212.6 L1355.0,1205.1 L1357.0,1197.5 L1359.0,1190.0 L1361.0,1182.4 L1363.0,1174.8 L1365.0,1167.1 L1367.0,1159.5 L1369.0,1151.8 L1371.0,1144.2 L1373.0,1136.5 L1375.0,1128.8 L1377.0,1121.1 L1379.0,1113.4 L1381.0,1105.7 L1383.0,1098.1 L1385.0,1090.4 L1387.0,1082.7 L1389.0,1075.1 L1391.0,1067.4 L1393.0,1059.8 L1395.0,1052.2 L1397.0,1044.5 L1399.0,1037.0 L1401.0,1029.4 L1403.0,1021.9 L1405.0,1014.3 L1407.0,1006.8 L1409.0,999.4 L1411.0,991.9 L1413.0,984.5 L1415.0,977.1 L1417.0,969.8 L1419.0,962.4 L1421.0,955.1 L1423.0,947.9 L1425.0,940.6 L1427.0,933.4 L1429.0,926.2 L1431.0,919.1 L1433.0,912.0 L1435.0,904.9 L1437.0,897.9 L1439.0,890.9 L1441.0,883.9 L1443.0,876.9 L1445.0,870.0 L1447.0,863.2 L1449.0,856.3 L1451.0,849.5 L1453.0,842.7 L1455.0,835.9 L1457.0,829.2 L1459.0,822.5 L1461.0,815.9 L1463.0,809.2 L1465.0,802.6 L1467.0,796.0 L1469.0,789.5 L1471.0,783.0 L1473.0,776.5 L1475.0,770.0 L1477.0,763.6 L1479.0,757.2 L1481.0,750.8 L1483.0,744.5 L1485.0,738.1 L1487.0,731.8 L1489.0,725.6 L1491.0,719.3 L1493.0,713.1 L1495.0,706.9 L1497.0,700.8 L1499.0,694.6 L1501.0,688.5 L1503.0,682.5 L1505.0,676.4 L1507.0,670.4 L1509.0,664.4 L1511.0,658.4 L1513.0,652.5 L1515.0,646.5 L1517.0,640.6 L1519.0,634.8 L1521.0,628.9 L1523.0,623.1 L1525.0,617.3 L1527.0,611.6 L1529.0,605.8 L1531.0,600.1 L1533.0,594.5 L1535.0,588.8 L1537.0,583.2 L1539.0,577.6 L1541.0,572.0 L1543.0,566.5 L1545.0,561.0 L1547.0,555.5 L1549.0,550.0 L1551.0,544.6 L1553.0,539.2 L1555.0,533.8 L1557.0,528.5 L1559.0,523.1 L1561.0,517.9 L1563.0,512.6 L1565.0,507.4 L1567.0,502.2 L1569.0,497.0 L1571.0,491.9 L1573.0,486.7 L1575.0,481.7 L1577.0,476.6 L1579.0,471.6 L1581.0,466.6 L1583.0,461.7 L1585.0,456.7 L1587.0,451.8 L1589.0,447.0 L1591.0,442.2 L1593.0,437.4 L1595.0,432.6 L1597.0,427.9 L1599.0,423.2 L1601.0,418.5 L1603.0,413.9 L1605.0,409.3 L1607.0,404.7 L1609.0,400.2 L1611.0,395.7 L1613.0,391.2 L1615.0,386.8 L1617.0,382.4 L1619.0,378.0 L1621.0,373.7 L1623.0,369.4 L1625.0,365.1 L1627.0,360.9 L1629.0,356.7 L1631.0,352.5 L1633.0,348.4 L1635.0,344.3 L1637.0,340.2 L1639.0,336.2 L1641.0,332.2 L1643.0,328.3 L1645.0,324.4 L1647.0,320.5 L1649.0,316.6 L1651.0,312.8 L1653.0,309.1 L1655.0,305.3 L1657.0,301.6 L1659.0,298.0 L1661.0,294.3 L1663.0,290.8 L1665.0,287.2 L1667.0,283.7 L1669.0,280.2 L1671.0,276.8 L1673.0,273.4 L1675.0,270.0 L1677.0,266.7 L1679.0,263.4 L1681.0,260.1 L1683.0,256.9 L1685.0,253.7 L1687.0,250.6 L1689.0,247.5 L1691.0,244.4 L1693.0,241.4 L1695.0,238.4 L1697.0,235.4 L1699.0,232.5 L1701.0,229.6 L1703.0,226.8 L1705.0,224.0 L1707.0,221.2 L1709.0,218.5 L1711.0,215.8 L1713.0,213.1 L1715.0,210.5 L1717.0,207.9 L1719.0,205.4 L1721.0,202.9 L1723.0,200.5 L1725.0,198.0 L1727.0,195.7 L1729.0,193.3 L1731.0,191.0 L1733.0,188.7 L1735.0,186.5 L1737.0,184.3 L1739.0,182.2 L1741.0,180.1 L1743.0,178.0 L1745.0,176.0 L1747.0,174.0 L1749.0,172.0 L1751.0,170.1 L1753.0,168.2 L1755.0,166.4 L1757.0,164.6 L1759.0,162.8 L1761.0,161.1 L1763.0,159.4 L1765.0,157.8 L1767.0,156.2 L1769.0,154.6 L1771.0,153.1 L1773.0,151.6 L1775.0,150.2 L1777.0,148.8 L1779.0,147.4 L1781.0,146.1 L1783.0,144.8 L1785.0,143.5 L1787.0,142.3 L1789.0,141.1 L1791.0,140.0 L1793.0,138.9 L1795.0,137.8 L1797.0,136.8 L1799.0,135.8 L1801.0,134.9 L1803.0,134.0 L1805.0,133.1 L1807.0,132.3 L1809.0,131.5 L1811.0,130.7 L1813.0,130.0 L1815.0,129.4 L1817.0,128.7 L1819.0,128.1 L1821.0,127.6 L1823.0,127.0 L1825.0,126.6 L1827.0,126.1 L1829.0,125.7 L1831.0,125.3 L1833.0,125.0 L1835.0,124.7 L1837.0,124.5 L1839.0,124.2 L1841.0,124.1 L1843.0,123.9 L1845.0,123.8 L1847.0,123.8 L1849.0,123.7 L1851.0,123.7 L1853.0,123.8 L1855.0,123.9 L1857.0,124.0 L1859.0,124.1 L1861.0,124.3 L1863.0,124.6 L1865.0,124.8 L1867.0,125.1 L1869.0,125.5 L1871.0,125.8 L1873.0,126.3 L1875.0,126.7 L1877.0,127.2 L1879.0,127.7 L1881.0,128.3 L1883.0,128.9 L1885.0,129.5 L1887.0,130.2 L1889.0,130.9 L1891.0,131.6 L1893.0,132.4 L1895.0,133.2 L1897.0,134.0 L1899.0,134.9 L1901.0,135.8 L1903.0,136.8 L1905.0,137.8 L1907.0,138.8 L1909.0,139.8 L1911.0,140.9 L1913.0,142.0 L1915.0,143.2 L1917.0,144.4 L1919.0,145.6 L1921.0,146.9 L1923.0,148.2 L1925.0,149.5 L1927.0,150.9 L1929.0,152.3 L1931.0,153.7 L1933.0,155.2 L1935.0,156.7 L1937.0,158.2 L1939.0,159.8 L1941.0,161.4 L1943.0,163.0 L1945.0,164.7 L1947.0,166.4 L1949.0,168.1 L1951.0,169.9 L1953.0,171.6 L1955.0,173.5 L1957.0,175.3 L1959.0,177.2 L1961.0,179.1 L1963.0,181.1 L1965.0,183.1 L1967.0,185.1 L1969.0,187.2 L1971.0,189.2 L1973.0,191.4 L1975.0,193.5 L1977.0,195.7 L1979.0,197.9 L1981.0,200.1 L1983.0,202.4 L1985.0,204.7 L1987.0,207.0 L1989.0,209.4 L1991.0,211.7 L1993.0,214.2 L1995.0,216.6 L1997.0,219.1 L1999.0,221.6 L2001.0,224.1 L2003.0,226.7 L2005.0,229.3 L2007.0,231.9 L2009.0,234.6 L2011.0,237.2 L2013.0,239.9 L2015.0,242.7 L2017.0,245.4 L2019.0,248.2 L2021.0,251.1 L2023.0,253.9 L2025.0,256.8 L2027.0,259.7 L2029.0,262.6 L2031.0,265.6 L2033.0,268.6 L2035.0,271.6 L2037.0,274.6 L2039.0,277.7 L2041.0,280.8 L2043.0,283.9 L2045.0,287.1 L2047.0,290.2 L2049.0,293.4 L2051.0,296.7 L2053.0,299.9 L2055.0,303.2 L2057.0,306.5 L2059.0,309.9 L2061.0,313.2 L2063.0,316.6 L2065.0,320.0 L2067.0,323.5 L2069.0,327.0 L2071.0,330.5 L2073.0,334.0 L2075.0,337.5 L2077.0,341.1 L2079.0,344.7 L2081.0,348.3 L2083.0,352.0 L2085.0,355.7 L2087.0,359.4 L2089.0,363.1 L2091.0,366.9 L2093.0,370.7 L2095.0,374.5 L2097.0,378.3 L2099.0,382.2 L2101.0,386.1 L2103.0,390.0 L2105.0,393.9 L2107.0,397.9 L2109.0,401.9 L2111.0,405.9 L2113.0,410.0 L2115.0,414.1 L2117.0,418.2 L2119.0,422.3 L2121.0,426.5 L2123.0,430.6 L2125.0,434.8 L2127.0,439.1 L2129.0,443.3 L2131.0,447.6 L2133.0,452.0 L2135.0,456.3 L2137.0,460.7 L2139.0,465.1 L2141.0,469.5 L2143.0,473.9 L2145.0,478.4 L2147.0,482.9 L2149.0,487.4 L2151.0,492.0 L2153.0,496.6 L2155.0,501.2 L2157.0,505.8 L2159.0,510.4 L2161.0,515.1 L2163.0,519.8 L2165.0,524.4 L2167.0,529.2 L2169.0,533.9 L2171.0,538.6 L2173.0,543.3 L2175.0,548.1 L2177.0,552.8 L2179.0,557.6 L2181.0,562.3 L2183.0,567.1 L2185.0,571.8 L2187.0,576.6 L2189.0,581.3 L2191.0,586.0 L2193.0,590.7 L2195.0,595.4 L2197.0,600.0 L2199.0,604.6 L2201.0,609.2 L2203.0,613.8 L2205.0,618.3 L2207.0,622.8 L2209.0,627.2 L2211.0,631.6 L2213.0,635.9 L2215.0,640.2 L2217.0,644.4 L2219.0,648.6 L2221.0,652.7 L2223.0,656.7 L2225.0,660.7 L2227.0,664.6 L2229.0,668.4 L2231.0,672.2 L2233.0,676.0 L2235.0,679.7 L2237.0,683.4 L2239.0,687.1 L2241.0,690.7 L2243.0,694.4 L2245.0,698.0 L2247.0,701.7 L2249.0,705.4 L2251.0,709.2 L2253.0,713.0 L2255.0,716.9 L2257.0,720.8 L2259.0,724.9 L2261.0,729.1 L2263.0,733.5 L2265.0,738.0 L2267.0,742.7 L2269.0,747.6 L2271.0,752.7 L2273.0,758.1 L2275.0,763.8 L2277.0,769.8 L2279.0,776.1 L2281.0,782.7 L2283.0,789.8 L2285.0,797.2" fill="none" stroke="#000000" stroke-width="7.5" stroke-linejoin="round" stroke-linecap="butt"/>
<path d="M1300.0,865.4 L1302.0,859.4 L1304.0,853.5 L1306.0,847.5 L1308.0,841.6 L1310.0,835.7 L1312.0,829.8 L1314.0,823.9 L1316.0,818.0 L1318.0,812.2 L1320.0,806.3 L1322.0,800.5 L1324.0,794.6 L1326.0,788.8 L1328.0,783.0 L1330.0,777.3 L1332.0,771.5 L1334.0,765.7 L1336.0,760.0 L1338.0,754.3 L1340.0,748.6 L1342.0,742.9 L1344.0,737.2 L1346.0,731.6 L1348.0,725.9 L1350.0,720.3 L1352.0,714.7 L1354.0,709.1 L1356.0,703.6 L1358.0,698.0 L1360.0,692.5 L1362.0,687.0 L1364.0,681.5 L1366.0,676.0 L1368.0,670.6 L1370.0,665.1 L1372.0,659.7 L1374.0,654.3 L1376.0,649.0 L1378.0,643.6 L1380.0,638.3 L1382.0,633.0 L1384.0,627.7 L1386.0,622.4 L1388.0,617.2 L1390.0,611.9 L1392.0,606.7 L1394.0,601.6 L1396.0,596.4 L1398.0,591.3 L1400.0,586.2 L1402.0,581.1 L1404.0,576.0 L1406.0,571.0 L1408.0,565.9 L1410.0,560.9 L1412.0,556.0 L1414.0,551.0 L1416.0,546.1 L1418.0,541.2 L1420.0,536.3 L1422.0,531.5 L1424.0,526.7 L1426.0,521.9 L1428.0,517.1 L1430.0,512.3 L1432.0,507.6 L1434.0,502.9 L1436.0,498.2 L1438.0,493.6 L1440.0,489.0 L1442.0,484.4 L1444.0,479.8 L1446.0,475.2 L1448.0,470.7 L1450.0,466.2 L1452.0,461.8 L1454.0,457.3 L1456.0,452.9 L1458.0,448.5 L1460.0,444.2 L1462.0,439.9 L1464.0,435.6 L1466.0,431.3 L1468.0,427.0 L1470.0,422.8 L1472.0,418.6 L1474.0,414.5 L1476.0,410.3 L1478.0,406.2 L1480.0,402.1 L1482.0,398.1 L1484.0,394.1 L1486.0,390.1 L1488.0,386.1 L1490.0,382.2 L1492.0,378.3 L1494.0,374.4 L1496.0,370.5 L1498.0,366.7 L1500.0,362.9 L1502.0,359.1 L1504.0,355.4 L1506.0,351.7 L1508.0,348.0 L1510.0,344.4 L1512.0,340.8 L1514.0,337.2 L1516.0,333.6 L1518.0,330.1 L1520.0,326.6 L1522.0,323.1 L1524.0,319.7 L1526.0,316.2 L1528.0,312.9 L1530.0,309.5 L1532.0,306.2 L1534.0,302.9 L1536.0,299.6 L1538.0,296.4 L1540.0,293.2 L1542.0,290.0 L1544.0,286.8 L1546.0,283.7 L1548.0,280.6 L1550.0,277.6 L1552.0,274.5 L1554.0,271.5 L1556.0,268.6 L1558.0,265.6 L1560.0,262.7 L1562.0,259.8 L1564.0,257.0 L1566.0,254.2 L1568.0,251.4 L1570.0,248.6 L1572.0,245.9 L1574.0,243.2 L1576.0,240.5 L1578.0,237.9 L1580.0,235.2 L1582.0,232.7 L1584.0,230.1 L1586.0,227.6 L1588.0,225.1 L1590.0,222.6 L1592.0,220.2 L1594.0,217.8 L1596.0,215.4 L1598.0,213.1 L1600.0,210.7 L1602.0,208.5 L1604.0,206.2 L1606.0,204.0 L1608.0,201.8 L1610.0,199.6 L1612.0,197.5 L1614.0,195.4 L1616.0,193.3 L1618.0,191.2 L1620.0,189.2 L1622.0,187.2 L1624.0,185.3 L1626.0,183.3 L1628.0,181.4 L1630.0,179.6 L1632.0,177.7 L1634.0,175.9 L1636.0,174.1 L1638.0,172.4 L1640.0,170.7 L1642.0,169.0 L1644.0,167.3 L1646.0,165.7 L1648.0,164.1 L1650.0,162.5 L1652.0,160.9 L1654.0,159.4 L1656.0,157.9 L1658.0,156.5 L1660.0,155.1 L1662.0,153.7 L1664.0,152.3 L1666.0,150.9 L1668.0,149.6 L1670.0,148.3 L1672.0,147.1 L1674.0,145.9 L1676.0,144.7 L1678.0,143.5 L1680.0,142.4 L1682.0,141.3 L1684.0,140.2 L1686.0,139.1 L1688.0,138.1 L1690.0,137.1 L1692.0,136.2 L1694.0,135.2 L1696.0,134.3 L1698.0,133.4 L1700.0,132.6 L1702.0,131.8 L1704.0,131.0 L1706.0,130.2 L1708.0,129.5 L1710.0,128.8 L1712.0,128.1 L1714.0,127.5 L1716.0,126.8 L1718.0,126.3 L1720.0,125.7 L1722.0,125.2 L1724.0,124.7 L1726.0,124.2 L1728.0,123.7 L1730.0,123.3 L1732.0,122.9 L1734.0,122.6 L1736.0,122.2 L1738.0,121.9 L1740.0,121.6 L1742.0,121.4 L1744.0,121.1 L1746.0,120.9 L1748.0,120.8 L1750.0,120.6 L1752.0,120.5 L1754.0,120.4 L1756.0,120.4 L1758.0,120.3 L1760.0,120.3 L1762.0,120.4 L1764.0,120.4 L1766.0,120.5 L1768.0,120.6 L1770.0,120.7 L1772.0,120.9 L1774.0,121.1 L1776.0,121.3 L1778.0,121.5 L1780.0,121.8 L1782.0,122.1 L1784.0,122.4 L1786.0,122.7 L1788.0,123.1 L1790.0,123.5 L1792.0,123.9 L1794.0,124.4 L1796.0,124.9 L1798.0,125.4 L1800.0,125.9 L1802.0,126.4 L1804.0,127.0 L1806.0,127.6 L1808.0,128.3 L1810.0,128.9 L1812.0,129.6 L1814.0,130.3 L1816.0,131.1 L1818.0,131.8 L1820.0,132.6 L1822.0,133.4 L1824.0,134.3 L1826.0,135.1 L1828.0,136.0 L1830.0,136.9 L1832.0,137.9 L1834.0,138.8 L1836.0,139.8 L1838.0,140.8 L1840.0,141.9 L1842.0,142.9 L1844.0,144.0 L1846.0,145.1 L1848.0,146.3 L1850.0,147.4 L1852.0,148.6 L1854.0,149.8 L1856.0,151.1 L1858.0,152.3 L1860.0,153.6 L1862.0,154.9 L1864.0,156.2 L1866.0,157.6 L1868.0,159.0 L1870.0,160.4 L1872.0,161.8 L1874.0,163.2 L1876.0,164.7 L1878.0,166.2 L1880.0,167.7 L1882.0,169.2 L1884.0,170.8 L1886.0,172.4 L1888.0,174.0 L1890.0,175.6 L1892.0,177.3 L1894.0,179.0 L1896.0,180.7 L1898.0,182.4 L1900.0,184.1 L1902.0,185.9 L1904.0,187.7 L1906.0,189.5 L1908.0,191.3 L1910.0,193.2 L1912.0,195.0 L1914.0,196.9 L1916.0,198.9 L1918.0,200.8 L1920.0,202.8 L1922.0,204.7 L1924.0,206.8 L1926.0,208.8 L1928.0,210.8 L1930.0,212.9 L1932.0,215.0 L1934.0,217.1 L1936.0,219.2 L1938.0,221.4 L1940.0,223.6 L1942.0,225.7 L1944.0,228.0 L1946.0,230.2 L1948.0,232.5 L1950.0,234.7 L1952.0,237.0 L1954.0,239.3 L1956.0,241.7 L1958.0,244.0 L1960.0,246.4 L1962.0,248.8 L1964.0,251.2 L1966.0,253.6 L1968.0,256.1 L1970.0,258.6 L1972.0,261.1 L1974.0,263.6 L1976.0,266.1 L1978.0,268.7 L1980.0,271.2 L1982.0,273.8 L1984.0,276.4 L1986.0,279.0 L1988.0,281.7 L1990.0,284.4 L1992.0,287.0 L1994.0,289.7 L1996.0,292.5 L1998.0,295.2 L2000.0,297.9 L2002.0,300.7 L2004.0,303.5 L2006.0,306.3 L2008.0,309.1 L2010.0,312.0 L2012.0,314.8 L2014.0,317.7 L2016.0,320.6 L2018.0,323.5 L2020.0,326.4 L2022.0,329.4 L2024.0,332.4 L2026.0,335.3 L2028.0,338.3 L2030.0,341.3 L2032.0,344.4 L2034.0,347.4 L2036.0,350.5 L2038.0,353.6 L2040.0,356.7 L2042.0,359.8 L2044.0,362.9 L2046.0,366.0 L2048.0,369.2 L2050.0,372.4 L2052.0,375.6 L2054.0,378.8 L2056.0,382.0 L2058.0,385.2 L2060.0,388.5 L2062.0,391.7 L2064.0,395.0 L2066.0,398.3 L2068.0,401.6 L2070.0,405.0 L2072.0,408.3 L2074.0,411.7 L2076.0,415.0 L2078.0,418.4 L2080.0,421.8 L2082.0,425.2 L2084.0,428.6 L2086.0,432.1 L2088.0,435.5 L2090.0,439.0 L2092.0,442.5 L2094.0,446.0 L2096.0,449.5 L2098.0,453.0 L2100.0,456.5 L2102.0,460.1 L2104.0,463.7 L2106.0,467.2 L2108.0,470.8 L2110.0,474.4 L2112.0,478.0 L2114.0,481.6 L2116.0,485.3 L2118.0,488.9 L2120.0,492.6 L2122.0,496.3 L2124.0,500.0 L2126.0,503.7 L2128.0,507.4 L2130.0,511.1 L2132.0,514.8 L2134.0,518.6 L2136.0,522.3 L2138.0,526.1 L2140.0,529.9 L2142.0,533.6 L2144.0,537.4 L2146.0,541.3 L2148.0,545.1 L2150.0,548.9 L2152.0,552.7 L2154.0,556.6 L2156.0,560.5 L2158.0,564.3 L2160.0,568.2 L2162.0,572.1 L2164.0,576.0 L2166.0,579.9 L2168.0,583.8 L2170.0,587.8 L2172.0,591.7 L2174.0,595.7 L2176.0,599.6 L2178.0,603.6 L2180.0,607.6 L2182.0,611.6 L2184.0,615.6 L2186.0,619.6 L2188.0,623.6 L2190.0,627.6 L2192.0,631.6 L2194.0,635.7 L2196.0,639.7 L2198.0,643.8 L2200.0,647.8 L2202.0,651.9 L2204.0,656.0 L2206.0,660.0 L2208.0,664.1 L2210.0,668.2 L2212.0,672.3 L2214.0,676.4 L2216.0,680.6 L2218.0,684.7 L2220.0,688.8 L2222.0,693.0 L2224.0,697.1 L2226.0,701.3 L2228.0,705.4 L2230.0,709.6 L2232.0,713.8 L2234.0,717.9 L2236.0,722.1 L2238.0,726.3 L2240.0,730.5 L2242.0,734.7 L2244.0,738.9 L2246.0,743.1 L2248.0,747.3 L2250.0,751.6 L2252.0,755.8 L2254.0,760.0 L2256.0,764.2 L2258.0,768.5 L2260.0,772.7 L2262.0,777.0 L2264.0,781.2 L2266.0,785.5 L2268.0,789.7 L2270.0,794.0 L2272.0,798.3 L2274.0,802.5 L2276.0,806.8 L2278.0,811.1 L2280.0,815.4 L2282.0,819.7 L2284.0,823.9 L2285.0,826.1" fill="none" stroke="#ff0000" stroke-width="7.5" stroke-linejoin="round" stroke-linecap="butt"/>
</g>
<g clip-path="url(#cc)">
<path d="M244.1,2411.8 L244.9,2414.7 L245.7,2417.6 L246.5,2420.5 L247.3,2423.4 L248.1,2426.3 L248.9,2429.1 L249.7,2432.0 L250.5,2434.9 L251.3,2437.8 L252.1,2440.7 L252.9,2443.6 L253.7,2446.5 L254.5,2449.4 L255.4,2452.3 L256.2,2455.1 L257.1,2458.0 L257.9,2460.9 L258.8,2463.8 L259.7,2466.6 L260.6,2469.5 L261.6,2472.3 L262.6,2475.1 L263.6,2478.0 L264.6,2480.8 L265.7,2483.6 L266.8,2486.4 L267.9,2489.2 L269.0,2491.9 L270.2,2494.7 L271.4,2497.5 L272.6,2500.2 L273.9,2502.9 L275.2,2505.6 L276.5,2508.3 L277.8,2511.0 L279.2,2513.6 L280.6,2516.3 L282.1,2518.9 L283.5,2521.5 L285.0,2524.1 L286.6,2526.7 L288.1,2529.3 L289.8,2531.8 L291.4,2534.3 L293.1,2536.8 L294.8,2539.2 L296.6,2541.7 L298.4,2544.0 L300.3,2546.4 L302.2,2548.7 L304.1,2550.9 L306.2,2553.1 L308.3,2555.2 L310.5,2557.2 L312.8,2559.0 L315.2,2560.7 L317.7,2562.0 L320.3,2562.9 L322.9,2563.4 L325.5,2563.2 L327.9,2562.5 L330.2,2561.1 L332.2,2559.3 L333.9,2557.1 L335.4,2554.7 L336.7,2552.0 L337.8,2549.3 L338.8,2546.5 L339.7,2543.6 L340.4,2540.7 L341.2,2537.8 L341.8,2534.9 L342.5,2532.0 L343.1,2529.0 L343.7,2526.1 L344.3,2523.2 L344.9,2520.2 L345.5,2517.3 L346.0,2514.3 L346.6,2511.4 L347.2,2508.4 L347.7,2505.5 L348.3,2502.5 L348.9,2499.6 L349.5,2496.6 L350.1,2493.7 L350.8,2490.8 L351.4,2487.9 L352.2,2485.0 L352.9,2482.1 L353.7,2479.2 L354.6,2476.3 L355.5,2473.5 L356.5,2470.6 L357.6,2467.9 L358.7,2465.2 L360.1,2462.7 L361.7,2460.5 L363.4,2458.7 L365.4,2457.6 L367.4,2457.2 L369.5,2457.7 L371.5,2458.8 L373.4,2460.6 L375.0,2462.8 L376.5,2465.3 L377.8,2467.9 L378.9,2470.7 L379.9,2473.5 L380.9,2476.3 L381.7,2479.2 L382.6,2482.1 L383.3,2485.0 L384.0,2487.9 L384.7,2490.8 L385.4,2493.7 L386.1,2496.7 L386.7,2499.6 L387.4,2502.5 L388.0,2505.4 L388.6,2508.4 L389.3,2511.3 L389.9,2514.3 L390.5,2517.2 L391.0,2520.1 L391.6,2523.1 L392.2,2526.0 L392.7,2529.0 L393.2,2531.9 L393.8,2534.9 L394.3,2537.8 L394.8,2540.8 L395.3,2543.8 L395.7,2546.7 L396.2,2549.7 L396.7,2552.6 L397.1,2555.6 L397.6,2558.6 L398.0,2561.5 L398.4,2564.5 L398.9,2567.5 L399.3,2570.5 L399.7,2573.4 L400.1,2576.4 L400.5,2579.4 L400.9,2582.3 L401.3,2585.3 L401.7,2588.3 L402.1,2591.3 L402.5,2594.2 L402.9,2597.2 L403.3,2600.2 L403.8,2603.2 L404.2,2606.1 L404.7,2609.1 L405.1,2612.0 L405.6,2615.0 L406.1,2618.0 L406.7,2620.9 L407.2,2623.9 L407.8,2626.8 L408.4,2629.8 L409.0,2632.7 L409.6,2635.6 L410.2,2638.6 L410.8,2641.5 L411.4,2644.4 L412.0,2647.4 L412.6,2650.3 L413.2,2653.3 L413.8,2656.2 L414.4,2659.1 L414.9,2662.1 L415.5,2665.0 L416.1,2668.0 L416.7,2670.9 L417.2,2673.9 L417.8,2676.8 L418.4,2679.8 L419.0,2682.7 L419.6,2685.6 L420.2,2688.6 L420.8,2691.5 L421.4,2694.4 L422.0,2697.4 L422.7,2700.3 L423.3,2703.2 L424.0,2706.2 L424.6,2709.1 L425.3,2712.0 L426.0,2714.9 L426.7,2717.9 L427.4,2720.8 L428.1,2723.7 L428.8,2726.6 L429.5,2729.5 L430.3,2732.4 L431.0,2735.3 L431.7,2738.2 L432.5,2741.1 L433.3,2744.0 L434.0,2746.9 L434.8,2749.9 L435.5,2752.8 L436.3,2755.7 L437.1,2758.5 L437.9,2761.4 L438.7,2764.3 L439.6,2767.2 L440.5,2770.1 L441.4,2772.9 L442.4,2775.7 L443.4,2778.6 L444.5,2781.4 L445.6,2784.1 L446.7,2786.9 L447.9,2789.6 L449.2,2792.4 L450.5,2795.1 L451.8,2797.8 L453.2,2800.4 L454.6,2803.1 L456.1,2805.7 L457.6,2808.2 L459.2,2810.8 L460.9,2813.3 L462.6,2815.7 L464.3,2818.2 L466.1,2820.6 L467.9,2823.0 L469.8,2825.3 L471.8,2827.6 L473.8,2829.8 L475.8,2832.0 L478.0,2834.1 L480.2,2836.1 L482.4,2838.0 L484.8,2839.9 L487.2,2841.6 L489.7,2843.3 L492.3,2844.8 L494.9,2846.3 L497.5,2847.6 L500.2,2849.0 L502.9,2850.3 L505.6,2851.5 L508.4,2852.8 L511.1,2854.0 L513.8,2855.2 L516.6,2856.4 L519.4,2857.6 L522.1,2858.7 L524.9,2859.8 L527.7,2860.9 L530.5,2862.0 L533.3,2863.0 L536.2,2864.0 L539.0,2864.9 L541.9,2865.9 L544.7,2866.7 L547.6,2867.6 L550.5,2868.4 L553.4,2869.2 L556.3,2869.9 L559.2,2870.6 L562.1,2871.2 L565.1,2871.7 L568.0,2872.2 L571.0,2872.6 L574.0,2873.0 L577.0,2873.2 L580.0,2873.4 L583.0,2873.6 L585.9,2873.6 L588.9,2873.6 L591.9,2873.4 L594.9,2873.2 L597.9,2872.8 L600.8,2872.3 L603.7,2871.7 L606.6,2870.9 L609.4,2869.9 L612.1,2868.8 L614.8,2867.5 L617.4,2866.1 L620.0,2864.5 L622.5,2862.9 L624.9,2861.1 L627.3,2859.3 L629.5,2857.4 L631.7,2855.3 L633.9,2853.2 L635.9,2851.1 L637.9,2848.8 L639.7,2846.5 L641.5,2844.1 L643.3,2841.7 L645.0,2839.2 L646.6,2836.7 L648.2,2834.1 L649.7,2831.5 L651.2,2828.9 L652.6,2826.3 L654.1,2823.7 L655.5,2821.0 L656.8,2818.3 L658.1,2815.6 L659.4,2812.9 L660.6,2810.2 L661.8,2807.4 L662.9,2804.7 L664.0,2801.9 L665.1,2799.1 L666.2,2796.3 L667.3,2793.5 L668.3,2790.7 L669.3,2787.8 L670.3,2785.0 L671.3,2782.2 L672.4,2779.4 L673.3,2776.5 L674.3,2773.7 L675.3,2770.9 L676.3,2768.0 L677.2,2765.2 L678.2,2762.3 L679.1,2759.5 L680.0,2756.6 L680.9,2753.8 L681.8,2750.9 L682.7,2748.0 L683.6,2745.2 L684.5,2742.3 L685.3,2739.4 L686.2,2736.6 L687.1,2733.7 L688.1,2730.8 L689.0,2728.0 L689.9,2725.1 L690.8,2722.3 L691.8,2719.4 L692.7,2716.6 L693.7,2713.8 L694.6,2710.9 L695.6,2708.1 L696.5,2705.2 L697.4,2702.4 L698.3,2699.5 L699.2,2696.6 L700.1,2693.8 L700.9,2690.9 L701.8,2688.0 L702.6,2685.1 L703.3,2682.2 L704.0,2679.3 L704.7,2676.4 L705.4,2673.4 L706.0,2670.5 L706.6,2667.6 L707.2,2664.6 L707.8,2661.7 L708.4,2658.8 L709.0,2655.8 L709.5,2652.9 L710.1,2649.9 L710.7,2647.0 L711.2,2644.0 L711.8,2641.1 L712.3,2638.1 L712.9,2635.2 L713.4,2632.2 L713.9,2629.3 L714.4,2626.3 L715.0,2623.4 L715.5,2620.4 L716.0,2617.4 L716.5,2614.5 L717.0,2611.5 L717.5,2608.6 L718.0,2605.6 L718.5,2602.7 L719.1,2599.7 L719.6,2596.8 L720.1,2593.8 L720.6,2590.8 L721.1,2587.9 L721.6,2584.9 L722.1,2582.0 L722.6,2579.0 L723.1,2576.1 L723.6,2573.1 L724.1,2570.1 L724.6,2567.2 L725.1,2564.2 L725.6,2561.3 L726.1,2558.3 L726.5,2555.3 L727.0,2552.4 L727.5,2549.4 L727.9,2546.4 L728.4,2543.5 L728.8,2540.5 L729.2,2537.5 L729.7,2534.6 L730.1,2531.6 L730.5,2528.6 L730.9,2525.7 L731.4,2522.7 L731.8,2519.7 L732.2,2516.7 L732.6,2513.8 L733.0,2510.8 L733.4,2507.8 L733.8,2504.9 L734.2,2501.9 L734.7,2498.9 L735.1,2495.9 L735.5,2493.0 L735.9,2490.0 L736.3,2487.0 L736.7,2484.1 L737.1,2481.1 L737.5,2478.1 L738.0,2475.1 L738.4,2472.2 L738.8,2469.2 L739.2,2466.2 L739.6,2463.3 L740.0,2460.3 L740.4,2457.3 L740.8,2454.3 L741.2,2451.4 L741.6,2448.4 L742.0,2445.4 L742.4,2442.4 L742.8,2439.5 L743.2,2436.5 L743.6,2433.5 L744.0,2430.6 L744.4,2427.6 L744.8,2424.6 L745.2,2421.6 L745.6,2418.7 L746.0,2415.7 L746.3,2412.7 L746.7,2409.7 L747.1,2406.8 L747.5,2403.8 L747.9,2400.8 L748.3,2397.8 L748.7,2394.9 L749.1,2391.9 L749.4,2388.9 L749.8,2385.9 L750.2,2383.0 L750.6,2380.0 L751.0,2377.0 L751.4,2374.0 L751.7,2371.1 L752.1,2368.1 L752.5,2365.1 L752.9,2362.1 L753.3,2359.2 L753.6,2356.2 L754.0,2353.2 L754.4,2350.2 L754.7,2347.2 L755.1,2344.3 L755.5,2341.3 L755.8,2338.3 L756.2,2335.3 L756.5,2332.3 L756.9,2329.4 L757.2,2326.4 L757.6,2323.4 L757.9,2320.4 L758.3,2317.5 L758.6,2314.5 L759.0,2311.5 L759.3,2308.5 L759.7,2305.5 L760.0,2302.6 L760.4,2299.6 L760.7,2296.6 L761.0,2293.6 L761.4,2290.6 L761.7,2287.7 L762.1,2284.7 L762.4,2281.7 L762.8,2278.7 L763.1,2275.7 L763.5,2272.8 L763.8,2269.8 L764.2,2266.8 L764.5,2263.8 L764.8,2260.8 L765.2,2257.9 L765.5,2254.9 L765.9,2251.9 L766.2,2248.9 L766.6,2245.9 L766.9,2243.0 L767.3,2240.0 L767.6,2237.0 L768.0,2234.0 L768.3,2231.0 L768.6,2228.1 L769.0,2225.1 L769.3,2222.1 L769.7,2219.1 L770.0,2216.1 L770.4,2213.2 L770.7,2210.2 L771.1,2207.2 L771.4,2204.2 L771.8,2201.2 L772.1,2198.3 L772.4,2195.3 L772.8,2192.3 L773.1,2189.3 L773.5,2186.3 L773.8,2183.3 L774.2,2180.4 L774.5,2177.4 L774.9,2174.4 L775.2,2171.4 L775.5,2168.4 L775.9,2165.5 L776.2,2162.5 L776.6,2159.5 L776.9,2156.5 L777.3,2153.6 L777.6,2150.6 L778.0,2147.6 L778.3,2144.6 L778.7,2141.6 L779.1,2138.7 L779.4,2135.7 L779.8,2132.7 L780.1,2129.7 L780.5,2126.7 L780.9,2123.8 L781.2,2120.8 L781.6,2117.8 L782.0,2114.8 L782.3,2111.9 L782.7,2108.9 L783.1,2105.9 L783.4,2102.9 L783.8,2099.9 L784.2,2097.0 L784.6,2094.0 L784.9,2091.0 L785.3,2088.0 L785.7,2085.1 L786.1,2082.1 L786.4,2079.1 L786.8,2076.1 L787.2,2073.2 L787.6,2070.2 L787.9,2067.2 L788.3,2064.2 L788.7,2061.3 L789.1,2058.3 L789.4,2055.3 L789.8,2052.3 L790.2,2049.3 L790.5,2046.4 L790.9,2043.4 L791.3,2040.4 L791.6,2037.4 L792.0,2034.5 L792.4,2031.5 L792.7,2028.5 L793.1,2025.5 L793.5,2022.5 L793.8,2019.6 L794.2,2016.6 L794.5,2013.6 L794.9,2010.6 L795.3,2007.7 L795.6,2004.7 L796.0,2001.7 L796.4,1998.7 L796.7,1995.7 L797.1,1992.8 L797.4,1989.8 L797.8,1986.8 L798.2,1983.8 L798.5,1980.9 L798.9,1977.9 L799.3,1974.9 L799.6,1971.9 L800.0,1968.9 L800.4,1966.0 L800.7,1963.0 L801.1,1960.0 L801.5,1957.0 L801.9,1954.1 L802.3,1951.1 L802.7,1948.1 L803.1,1945.1 L803.5,1942.2 L803.9,1939.2 L804.3,1936.2 L804.7,1933.3 L805.1,1930.3 L805.5,1927.3 L806.0,1924.3 L806.4,1921.4 L806.8,1918.4 L807.2,1915.4 L807.7,1912.5 L808.1,1909.5 L808.5,1906.5 L809.0,1903.6 L809.4,1900.6 L809.9,1897.6 L810.3,1894.7 L810.7,1891.7 L811.2,1888.7 L811.6,1885.8 L812.0,1882.8 L812.5,1879.8 L812.9,1876.8 L813.4,1873.9 L813.8,1870.9 L814.3,1868.0 L814.7,1865.0 L815.2,1862.0 L815.7,1859.1 L816.1,1856.1 L816.6,1853.1 L817.1,1850.2 L817.6,1847.2 L818.1,1844.3 L818.6,1841.3 L819.1,1838.3 L819.6,1835.4 L820.1,1832.4 L820.6,1829.5 L821.1,1826.5 L821.6,1823.6 L822.2,1820.6 L822.7,1817.7 L823.2,1814.7 L823.8,1811.7 L824.3,1808.8 L824.9,1805.9 L825.4,1802.9 L826.0,1800.0 L826.6,1797.0 L827.1,1794.1 L827.7,1791.1 L828.3,1788.2 L828.9,1785.2 L829.5,1782.3 L830.1,1779.4 L830.7,1776.4 L831.3,1773.5 L831.9,1770.5 L832.5,1767.6 L833.1,1764.7 L833.7,1761.7 L834.4,1758.8 L835.0,1755.9 L835.6,1752.9 L836.3,1750.0 L836.9,1747.1 L837.6,1744.2 L838.3,1741.2 L839.0,1738.3 L839.8,1735.4 L840.5,1732.5 L841.3,1729.6 L842.1,1726.7 L843.0,1723.9 L843.8,1721.0 L844.7,1718.1 L845.6,1715.3 L846.5,1712.4 L847.5,1709.6 L848.5,1706.7 L849.6,1703.9 L850.7,1701.2 L851.8,1698.4 L853.0,1695.6 L854.3,1692.9 L855.5,1690.2 L856.9,1687.5 L858.3,1684.9 L859.8,1682.3 L861.3,1679.7 L863.0,1677.3 L864.8,1675.0 L866.8,1672.8 L868.9,1671.0 L871.2,1669.5 L873.7,1668.4 L876.3,1667.9 L878.9,1668.0 L881.5,1668.7 L884.0,1669.9 L886.3,1671.5 L888.4,1673.4 L890.3,1675.5 L892.1,1677.9 L893.8,1680.4 L895.3,1682.9 L896.8,1685.5 L898.2,1688.1 L899.6,1690.8 L900.9,1693.5 L902.1,1696.2 L903.3,1699.0 L904.5,1701.8 L905.6,1704.5 L906.6,1707.3 L907.7,1710.2 L908.7,1713.0 L909.7,1715.8 L910.6,1718.7 L911.5,1721.5 L912.3,1724.4 L913.2,1727.3 L913.9,1730.2 L914.7,1733.1 L915.3,1736.0 L916.0,1738.9 L916.6,1741.9 L917.3,1744.8 L917.9,1747.7 L918.5,1750.7 L919.1,1753.6 L919.7,1756.6 L920.3,1759.5 L921.0,1762.4 L921.6,1765.3 L922.3,1768.3 L923.0,1771.2 L923.7,1774.1 L924.4,1777.0 L925.1,1779.9 L925.8,1782.9 L926.5,1785.8 L927.2,1788.7 L927.9,1791.6 L928.5,1794.5 L929.2,1797.5 L929.9,1800.4 L930.6,1803.3 L931.3,1806.2 L931.9,1809.1 L932.6,1812.1 L933.3,1815.0 L934.0,1817.9 L934.6,1820.8 L935.3,1823.8 L935.9,1826.7 L936.6,1829.6 L937.2,1832.6 L937.9,1835.5 L938.5,1838.4 L939.2,1841.4 L939.8,1844.3 L940.4,1847.2 L941.0,1850.2 L941.6,1853.1 L942.2,1856.0 L942.8,1859.0 L943.4,1861.9 L943.9,1864.9 L944.5,1867.8 L945.1,1870.8 L945.6,1873.7 L946.2,1876.7 L946.7,1879.6 L947.3,1882.6 L947.8,1885.5 L948.4,1888.5 L948.9,1891.4 L949.5,1894.4 L950.0,1897.3 L950.6,1900.3 L951.1,1903.2 L951.7,1906.2 L952.2,1909.1 L952.8,1912.0 L953.3,1915.0 L953.9,1917.9 L954.4,1920.9 L955.0,1923.8 L955.5,1926.8 L956.1,1929.7 L956.6,1932.7 L957.2,1935.6 L957.7,1938.6 L958.3,1941.5 L958.8,1944.5 L959.3,1947.4 L959.9,1950.4 L960.4,1953.4 L960.9,1956.3 L961.4,1959.3 L962.0,1962.2 L962.5,1965.2 L963.0,1968.1 L963.5,1971.1 L964.0,1974.0 L964.5,1977.0 L965.0,1980.0 L965.5,1982.9 L966.0,1985.9 L966.6,1988.8 L967.1,1991.8 L967.6,1994.7 L968.1,1997.7 L968.6,2000.6 L969.1,2003.6 L969.7,2006.5 L970.2,2009.5 L970.7,2012.5 L971.2,2015.4 L971.8,2018.4 L972.3,2021.3 L972.8,2024.3 L973.4,2027.2 L973.9,2030.2 L974.4,2033.1 L974.9,2036.1 L975.5,2039.0 L976.0,2042.0 L976.5,2044.9 L977.0,2047.9 L977.5,2050.9 L978.1,2053.8 L978.6,2056.8 L979.1,2059.7 L979.6,2062.7 L980.1,2065.6 L980.6,2068.6 L981.1,2071.5 L981.6,2074.5 L982.1,2077.5 L982.6,2080.4 L983.1,2083.4 L983.7,2086.3 L984.2,2089.3 L984.7,2092.2 L985.2,2095.2 L985.7,2098.2 L986.2,2101.1 L986.7,2104.1 L987.2,2107.0 L987.7,2110.0 L988.3,2112.9 L988.8,2115.9 L989.3,2118.8 L989.8,2121.8 L990.3,2124.8 L990.8,2127.7 L991.4,2130.7 L991.9,2133.6 L992.4,2136.6 L992.9,2139.5 L993.4,2142.5 L993.9,2145.4 L994.4,2148.4 L994.9,2151.4 L995.4,2154.3 L995.9,2157.3 L996.4,2160.2 L996.9,2163.2 L997.4,2166.2 L997.9,2169.1 L998.4,2172.1 L998.9,2175.0 L999.4,2178.0 L999.9,2180.9 L1000.4,2183.9 L1000.9,2186.9 L1001.3,2189.8 L1001.8,2192.8 L1002.3,2195.8 L1002.8,2198.7 L1003.3,2201.7 L1003.8,2204.6 L1004.2,2207.6 L1004.7,2210.6 L1005.2,2213.5 L1005.7,2216.5 L1006.2,2219.4 L1006.7,2222.4 L1007.1,2225.4 L1007.6,2228.3 L1008.1,2231.3 L1008.6,2234.2 L1009.0,2237.2 L1009.5,2240.2 L1010.0,2243.1 L1010.4,2246.1 L1010.9,2249.1 L1011.3,2252.0 L1011.8,2255.0 L1012.2,2258.0 L1012.6,2260.9 L1013.0,2263.9 L1013.4,2266.9 L1013.7,2269.9 L1014.1,2272.8 L1014.5,2275.8 L1014.8,2278.8 L1015.1,2281.8 L1015.5,2284.8 L1015.8,2287.7 L1016.2,2290.7 L1016.5,2293.7 L1016.9,2296.7 L1017.2,2299.7 L1017.6,2302.6 L1018.0,2305.6 L1018.4,2308.6 L1018.8,2311.6 L1019.3,2314.5 L1019.8,2317.5 L1020.3,2320.4 L1020.8,2323.4 L1021.4,2326.3 L1021.9,2329.3 L1022.5,2332.2 L1023.1,2335.2 L1023.7,2338.1 L1024.3,2341.0 L1024.9,2344.0 L1025.6,2346.9 L1026.2,2349.8 L1026.9,2352.8 L1027.5,2355.7 L1028.2,2358.6 L1028.9,2361.5 L1029.6,2364.5 L1030.3,2367.4 L1031.0,2370.3 L1031.7,2373.2 L1032.5,2376.1 L1033.2,2379.0 L1033.9,2381.9 L1034.5,2384.9 L1035.2,2387.8 L1035.9,2390.7 L1036.5,2393.6 L1037.1,2396.6 L1037.8,2399.5 L1038.4,2402.4 L1039.0,2405.4 L1039.6,2408.3 L1040.1,2411.3 L1040.7,2414.2 L1041.3,2417.2 L1041.8,2420.1 L1042.4,2423.1 L1042.9,2426.0 L1043.5,2429.0 L1044.0,2431.9 L1044.5,2434.9 L1045.0,2437.8 L1045.5,2440.8 L1046.0,2443.7 L1046.5,2446.7 L1047.0,2449.7 L1047.5,2452.6 L1047.9,2455.6 L1048.4,2458.5 L1048.9,2461.5 L1049.4,2464.5 L1049.9,2467.4 L1050.4,2470.4 L1051.0,2473.3 L1051.5,2476.3 L1052.0,2479.2 L1052.5,2482.2 L1053.1,2485.1 L1053.6,2488.1 L1054.2,2491.0 L1054.8,2494.0 L1055.4,2496.9 L1056.0,2499.9 L1056.6,2502.8 L1057.3,2505.7 L1058.1,2508.6 L1058.9,2511.5 L1059.7,2514.4 L1060.6,2517.2 L1061.5,2520.1 L1062.5,2522.9 L1063.5,2525.7 L1064.5,2528.6 L1065.5,2531.4 L1066.5,2534.2 L1067.4,2537.1 L1068.3,2539.9 L1069.2,2542.8 L1069.9,2545.7 L1070.7,2548.6 L1071.4,2551.5 L1072.1,2554.4 L1072.8,2557.4 L1073.5,2560.3 L1074.2,2563.2 L1074.8,2566.1 L1075.5,2569.0 L1076.2,2572.0 L1076.9,2574.9 L1077.6,2577.8 L1078.4,2580.7 L1079.1,2583.6 L1079.9,2586.5 L1080.6,2589.4 L1081.4,2592.3 L1082.2,2595.2 L1083.0,2598.1 L1083.8,2601.0 L1084.6,2603.9 L1085.4,2606.8 L1086.3,2609.6 L1087.1,2612.5 L1087.9,2615.4 L1088.8,2618.3 L1089.6,2621.2 L1090.5,2624.0 L1091.3,2626.9 L1092.2,2629.8 L1093.1,2632.7 L1093.9,2635.5 L1094.8,2638.4 L1095.7,2641.3 L1096.6,2644.1 L1097.5,2647.0 L1098.4,2649.8 L1099.4,2652.7 L1100.4,2655.5 L1101.4,2658.3 L1102.4,2661.1 L1103.5,2663.9 L1104.6,2666.7 L1105.8,2669.5 L1106.9,2672.3 L1108.1,2675.0 L1109.4,2677.8 L1110.6,2680.5 L1111.9,2683.2 L1113.1,2685.9 L1114.4,2688.6 L1115.7,2691.3 L1117.0,2694.0 L1118.4,2696.7 L1119.7,2699.4 L1121.0,2702.1 L1122.3,2704.8 L1123.7,2707.5 L1125.1,2710.1 L1126.5,2712.8 L1127.9,2715.4 L1129.3,2718.1 L1130.8,2720.7 L1132.4,2723.2 L1133.9,2725.8 L1135.6,2728.3 L1137.3,2730.7 L1139.1,2733.2 L1140.9,2735.6 L1142.7,2737.9 L1144.6,2740.3 L1146.4,2742.6 L1148.2,2745.0 L1150.0,2747.4 L1151.8,2749.8 L1153.5,2752.3 L1155.2,2754.7 L1156.9,2757.2 L1158.6,2759.7 L1160.2,2762.2 L1161.9,2764.8 L1163.5,2767.3 L1165.2,2769.8 L1166.8,2772.3 L1168.5,2774.8 L1170.1,2777.3 L1171.8,2779.8 L1173.4,2782.3 L1175.1,2784.8 L1176.8,2787.3 L1178.4,2789.8 L1180.0,2792.3 L1181.7,2794.8 L1183.3,2797.3 L1184.9,2799.7 L1186.7,2802.0 L1188.6,2804.1 L1190.8,2805.8 L1193.2,2807.1 L1195.7,2807.9 L1198.5,2808.4 L1201.4,2808.6 L1204.3,2808.6 L1207.3,2808.6 L1209.3,2808.6" fill="none" stroke="#000000" stroke-width="5.8" stroke-linejoin="round" stroke-linecap="butt"/>
<path d="M244.1,2254.5 L244.7,2257.4 L245.4,2260.4 L246.0,2263.3 L246.6,2266.2 L247.2,2269.2 L247.8,2272.1 L248.4,2275.0 L249.0,2278.0 L249.6,2280.9 L250.2,2283.9 L250.8,2286.8 L251.4,2289.8 L252.0,2292.7 L252.5,2295.6 L253.1,2298.6 L253.8,2301.5 L254.4,2304.4 L255.1,2307.4 L255.7,2310.3 L256.4,2313.2 L257.1,2316.1 L257.8,2319.1 L258.5,2322.0 L259.3,2324.9 L260.0,2327.8 L260.8,2330.7 L261.5,2333.6 L262.3,2336.5 L263.1,2339.4 L264.0,2342.2 L264.8,2345.1 L265.7,2348.0 L266.7,2350.8 L267.6,2353.7 L268.6,2356.5 L269.6,2359.3 L270.6,2362.1 L271.7,2365.0 L272.7,2367.8 L273.8,2370.6 L274.9,2373.4 L276.0,2376.2 L277.0,2379.0 L278.1,2381.8 L279.3,2384.5 L280.4,2387.3 L281.6,2390.1 L282.8,2392.8 L284.0,2395.6 L285.3,2398.3 L286.5,2401.0 L287.8,2403.7 L289.2,2406.4 L290.5,2409.1 L291.8,2411.8 L293.1,2414.5 L294.4,2417.2 L295.7,2419.9 L297.0,2422.6 L298.3,2425.3 L299.6,2428.0 L300.9,2430.7 L302.3,2433.3 L303.7,2436.0 L305.2,2438.6 L306.7,2441.2 L308.2,2443.8 L309.9,2446.2 L311.6,2448.6 L313.5,2450.9 L315.5,2453.0 L317.7,2454.8 L320.1,2456.1 L322.5,2457.0 L325.0,2457.3 L327.4,2456.9 L329.7,2455.8 L331.8,2454.2 L333.6,2452.2 L335.1,2449.8 L336.4,2447.2 L337.4,2444.5 L338.4,2441.6 L339.2,2438.8 L339.9,2435.9 L340.6,2432.9 L341.2,2430.0 L341.7,2427.1 L342.2,2424.1 L342.7,2421.1 L343.2,2418.2 L343.6,2415.2 L344.0,2412.2 L344.5,2409.3 L344.9,2406.3 L345.3,2403.3 L345.8,2400.4 L346.2,2397.4 L346.6,2394.4 L347.1,2391.5 L347.5,2388.5 L347.9,2385.5 L348.3,2382.5 L348.8,2379.6 L349.2,2376.6 L349.6,2373.6 L350.1,2370.7 L350.5,2367.7 L351.0,2364.7 L351.5,2361.8 L352.0,2358.8 L352.5,2355.9 L353.1,2352.9 L353.6,2350.0 L354.2,2347.0 L354.8,2344.1 L355.5,2341.2 L356.1,2338.2 L356.8,2335.3 L357.6,2332.4 L358.4,2329.6 L359.3,2326.7 L360.3,2324.0 L361.6,2321.5 L363.0,2319.2 L364.6,2317.5 L366.3,2316.4 L368.2,2316.1 L370.0,2316.7 L371.7,2318.1 L373.2,2320.1 L374.6,2322.5 L375.7,2325.2 L376.6,2327.9 L377.5,2330.8 L378.3,2333.7 L379.0,2336.6 L379.7,2339.5 L380.3,2342.4 L381.0,2345.4 L381.6,2348.3 L382.2,2351.2 L382.7,2354.2 L383.3,2357.1 L383.8,2360.1 L384.3,2363.0 L384.8,2366.0 L385.3,2369.0 L385.7,2371.9 L386.2,2374.9 L386.6,2377.9 L387.1,2380.8 L387.5,2383.8 L387.9,2386.8 L388.3,2389.7 L388.6,2392.7 L389.0,2395.7 L389.4,2398.7 L389.8,2401.7 L390.1,2404.6 L390.5,2407.6 L390.8,2410.6 L391.1,2413.6 L391.5,2416.6 L391.8,2419.5 L392.1,2422.5 L392.5,2425.5 L392.8,2428.5 L393.1,2431.5 L393.4,2434.5 L393.7,2437.4 L394.0,2440.4 L394.3,2443.4 L394.6,2446.4 L394.9,2449.4 L395.2,2452.4 L395.5,2455.4 L395.8,2458.3 L396.1,2461.3 L396.4,2464.3 L396.7,2467.3 L397.1,2470.3 L397.4,2473.2 L397.7,2476.2 L398.1,2479.2 L398.4,2482.2 L398.8,2485.2 L399.1,2488.1 L399.4,2491.1 L399.8,2494.1 L400.1,2497.1 L400.5,2500.1 L400.8,2503.1 L401.2,2506.0 L401.5,2509.0 L401.8,2512.0 L402.2,2515.0 L402.5,2518.0 L402.9,2520.9 L403.2,2523.9 L403.5,2526.9 L403.9,2529.9 L404.2,2532.9 L404.6,2535.8 L404.9,2538.8 L405.3,2541.8 L405.6,2544.8 L406.0,2547.8 L406.3,2550.7 L406.7,2553.7 L407.0,2556.7 L407.4,2559.7 L407.8,2562.6 L408.1,2565.6 L408.5,2568.6 L408.9,2571.6 L409.3,2574.6 L409.7,2577.5 L410.1,2580.5 L410.5,2583.5 L410.9,2586.4 L411.3,2589.4 L411.8,2592.4 L412.2,2595.3 L412.7,2598.3 L413.1,2601.3 L413.6,2604.2 L414.1,2607.2 L414.5,2610.2 L415.0,2613.1 L415.5,2616.1 L416.0,2619.0 L416.5,2622.0 L416.9,2625.0 L417.4,2627.9 L417.9,2630.9 L418.4,2633.9 L418.8,2636.8 L419.3,2639.8 L419.8,2642.7 L420.2,2645.7 L420.7,2648.7 L421.2,2651.6 L421.6,2654.6 L422.1,2657.6 L422.6,2660.5 L423.0,2663.5 L423.5,2666.5 L424.0,2669.4 L424.5,2672.4 L425.0,2675.3 L425.5,2678.3 L426.1,2681.2 L426.6,2684.2 L427.1,2687.1 L427.6,2690.1 L428.2,2693.0 L428.7,2696.0 L429.3,2698.9 L429.8,2701.9 L430.4,2704.8 L430.9,2707.8 L431.5,2710.7 L432.1,2713.7 L432.7,2716.6 L433.3,2719.6 L433.9,2722.5 L434.6,2725.4 L435.3,2728.3 L436.0,2731.2 L436.7,2734.1 L437.5,2737.0 L438.3,2739.9 L439.2,2742.8 L440.1,2745.7 L441.0,2748.5 L442.0,2751.4 L442.9,2754.2 L444.0,2757.0 L445.0,2759.8 L446.1,2762.6 L447.3,2765.4 L448.4,2768.1 L449.6,2770.9 L450.8,2773.6 L452.1,2776.4 L453.4,2779.1 L454.7,2781.8 L456.0,2784.5 L457.3,2787.2 L458.6,2789.9 L459.9,2792.6 L461.3,2795.2 L462.7,2797.9 L464.1,2800.6 L465.5,2803.2 L467.0,2805.8 L468.5,2808.4 L470.1,2810.9 L471.7,2813.4 L473.4,2815.9 L475.1,2818.4 L476.9,2820.8 L478.7,2823.2 L480.5,2825.6 L482.4,2827.9 L484.3,2830.2 L486.2,2832.5 L488.3,2834.7 L490.3,2836.9 L492.5,2839.0 L494.7,2841.0 L496.9,2843.0 L499.2,2844.9 L501.5,2846.8 L503.9,2848.6 L506.3,2850.4 L508.8,2852.1 L511.2,2853.8 L513.8,2855.5 L516.3,2857.0 L518.9,2858.6 L521.4,2860.1 L524.1,2861.6 L526.7,2863.0 L529.4,2864.4 L532.0,2865.7 L534.8,2867.0 L537.5,2868.2 L540.3,2869.3 L543.1,2870.3 L545.9,2871.3 L548.8,2872.1 L551.7,2872.9 L554.6,2873.4 L557.5,2873.8 L560.5,2874.0 L563.4,2873.9 L566.4,2873.7 L569.3,2873.2 L572.1,2872.4 L574.9,2871.5 L577.6,2870.3 L580.1,2868.8 L582.6,2867.2 L585.0,2865.4 L587.2,2863.4 L589.3,2861.4 L591.4,2859.2 L593.3,2856.9 L595.2,2854.6 L597.0,2852.2 L598.7,2849.8 L600.4,2847.3 L602.0,2844.7 L603.5,2842.2 L604.9,2839.5 L606.3,2836.9 L607.7,2834.2 L609.0,2831.5 L610.3,2828.8 L611.5,2826.1 L612.8,2823.4 L614.0,2820.6 L615.2,2817.9 L616.3,2815.1 L617.5,2812.3 L618.6,2809.5 L619.6,2806.7 L620.7,2803.9 L621.7,2801.1 L622.7,2798.3 L623.7,2795.4 L624.6,2792.6 L625.6,2789.7 L626.5,2786.9 L627.4,2784.0 L628.3,2781.1 L629.1,2778.3 L630.0,2775.4 L630.8,2772.5 L631.5,2769.6 L632.3,2766.7 L633.0,2763.8 L633.8,2760.9 L634.5,2758.0 L635.2,2755.1 L635.9,2752.1 L636.6,2749.2 L637.3,2746.3 L638.0,2743.4 L638.7,2740.5 L639.3,2737.5 L640.0,2734.6 L640.7,2731.7 L641.5,2728.8 L642.2,2725.9 L642.9,2723.0 L643.6,2720.0 L644.3,2717.1 L645.0,2714.2 L645.7,2711.3 L646.4,2708.4 L647.1,2705.5 L647.8,2702.6 L648.5,2699.6 L649.2,2696.7 L649.9,2693.8 L650.6,2690.9 L651.3,2688.0 L652.0,2685.0 L652.7,2682.1 L653.3,2679.2 L654.0,2676.3 L654.7,2673.4 L655.4,2670.4 L656.1,2667.5 L656.7,2664.6 L657.4,2661.7 L658.0,2658.7 L658.7,2655.8 L659.3,2652.9 L659.9,2649.9 L660.4,2647.0 L661.0,2644.0 L661.6,2641.1 L662.1,2638.1 L662.6,2635.2 L663.1,2632.2 L663.6,2629.3 L664.1,2626.3 L664.6,2623.3 L665.1,2620.4 L665.6,2617.4 L666.1,2614.5 L666.6,2611.5 L667.1,2608.5 L667.6,2605.6 L668.1,2602.6 L668.6,2599.7 L669.1,2596.7 L669.6,2593.8 L670.1,2590.8 L670.6,2587.8 L671.1,2584.9 L671.6,2581.9 L672.1,2579.0 L672.6,2576.0 L673.1,2573.0 L673.6,2570.1 L674.0,2567.1 L674.5,2564.2 L675.0,2561.2 L675.5,2558.3 L676.0,2555.3 L676.5,2552.3 L677.0,2549.4 L677.5,2546.4 L678.0,2543.5 L678.5,2540.5 L678.9,2537.5 L679.4,2534.6 L679.9,2531.6 L680.4,2528.6 L680.9,2525.7 L681.3,2522.7 L681.8,2519.8 L682.3,2516.8 L682.8,2513.8 L683.3,2510.9 L683.7,2507.9 L684.2,2505.0 L684.7,2502.0 L685.2,2499.0 L685.6,2496.1 L686.1,2493.1 L686.6,2490.1 L687.1,2487.2 L687.5,2484.2 L688.0,2481.3 L688.5,2478.3 L689.0,2475.3 L689.4,2472.4 L689.9,2469.4 L690.4,2466.4 L690.8,2463.5 L691.3,2460.5 L691.7,2457.6 L692.2,2454.6 L692.6,2451.6 L693.1,2448.7 L693.5,2445.7 L693.9,2442.7 L694.4,2439.7 L694.8,2436.8 L695.2,2433.8 L695.6,2430.8 L696.0,2427.9 L696.4,2424.9 L696.8,2421.9 L697.2,2418.9 L697.6,2416.0 L698.0,2413.0 L698.4,2410.0 L698.8,2407.0 L699.2,2404.1 L699.7,2401.1 L700.1,2398.1 L700.5,2395.2 L700.9,2392.2 L701.3,2389.2 L701.7,2386.2 L702.1,2383.3 L702.5,2380.3 L702.9,2377.3 L703.3,2374.4 L703.7,2371.4 L704.1,2368.4 L704.5,2365.4 L704.9,2362.5 L705.3,2359.5 L705.7,2356.5 L706.1,2353.5 L706.5,2350.6 L706.9,2347.6 L707.3,2344.6 L707.7,2341.6 L708.1,2338.7 L708.5,2335.7 L708.9,2332.7 L709.3,2329.8 L709.7,2326.8 L710.1,2323.8 L710.5,2320.8 L710.9,2317.9 L711.3,2314.9 L711.7,2311.9 L712.1,2308.9 L712.5,2306.0 L712.9,2303.0 L713.3,2300.0 L713.7,2297.0 L714.1,2294.1 L714.5,2291.1 L714.9,2288.1 L715.3,2285.1 L715.6,2282.2 L716.0,2279.2 L716.4,2276.2 L716.8,2273.2 L717.2,2270.3 L717.6,2267.3 L718.0,2264.3 L718.4,2261.4 L718.8,2258.4 L719.2,2255.4 L719.6,2252.4 L720.0,2249.5 L720.4,2246.5 L720.8,2243.5 L721.2,2240.5 L721.6,2237.6 L722.0,2234.6 L722.4,2231.6 L722.9,2228.7 L723.3,2225.7 L723.7,2222.7 L724.1,2219.7 L724.5,2216.8 L725.0,2213.8 L725.4,2210.8 L725.8,2207.9 L726.2,2204.9 L726.6,2201.9 L727.0,2199.0 L727.5,2196.0 L727.9,2193.0 L728.3,2190.0 L728.7,2187.1 L729.1,2184.1 L729.5,2181.1 L729.9,2178.2 L730.4,2175.2 L730.8,2172.2 L731.2,2169.2 L731.6,2166.3 L732.0,2163.3 L732.4,2160.3 L732.9,2157.4 L733.3,2154.4 L733.7,2151.4 L734.1,2148.4 L734.6,2145.5 L735.0,2142.5 L735.4,2139.5 L735.8,2136.6 L736.3,2133.6 L736.7,2130.6 L737.1,2127.7 L737.6,2124.7 L738.0,2121.7 L738.4,2118.8 L738.9,2115.8 L739.3,2112.8 L739.8,2109.9 L740.2,2106.9 L740.6,2103.9 L741.1,2100.9 L741.5,2098.0 L741.9,2095.0 L742.4,2092.0 L742.8,2089.1 L743.2,2086.1 L743.6,2083.1 L744.1,2080.2 L744.5,2077.2 L744.9,2074.2 L745.4,2071.3 L745.8,2068.3 L746.2,2065.3 L746.7,2062.4 L747.1,2059.4 L747.5,2056.4 L748.0,2053.5 L748.4,2050.5 L748.9,2047.5 L749.3,2044.6 L749.8,2041.6 L750.2,2038.6 L750.7,2035.7 L751.2,2032.7 L751.6,2029.7 L752.1,2026.8 L752.6,2023.8 L753.0,2020.8 L753.5,2017.9 L754.0,2014.9 L754.4,2011.9 L754.9,2009.0 L755.4,2006.0 L755.8,2003.1 L756.3,2000.1 L756.7,1997.1 L757.2,1994.2 L757.7,1991.2 L758.1,1988.2 L758.6,1985.3 L759.1,1982.3 L759.5,1979.3 L760.0,1976.4 L760.5,1973.4 L760.9,1970.5 L761.4,1967.5 L761.9,1964.5 L762.3,1961.6 L762.8,1958.6 L763.3,1955.6 L763.8,1952.7 L764.3,1949.7 L764.7,1946.8 L765.2,1943.8 L765.7,1940.8 L766.2,1937.9 L766.7,1934.9 L767.2,1932.0 L767.7,1929.0 L768.2,1926.0 L768.7,1923.1 L769.2,1920.1 L769.7,1917.2 L770.2,1914.2 L770.8,1911.3 L771.3,1908.3 L771.8,1905.4 L772.3,1902.4 L772.8,1899.4 L773.3,1896.5 L773.8,1893.5 L774.3,1890.6 L774.8,1887.6 L775.3,1884.7 L775.8,1881.7 L776.3,1878.7 L776.8,1875.8 L777.4,1872.8 L777.9,1869.9 L778.4,1866.9 L778.9,1864.0 L779.5,1861.0 L780.0,1858.1 L780.6,1855.1 L781.1,1852.2 L781.7,1849.2 L782.3,1846.3 L782.8,1843.3 L783.4,1840.4 L784.0,1837.5 L784.7,1834.5 L785.3,1831.6 L785.9,1828.6 L786.5,1825.7 L787.1,1822.8 L787.8,1819.8 L788.4,1816.9 L789.0,1814.0 L789.7,1811.1 L790.3,1808.1 L791.0,1805.2 L791.6,1802.3 L792.2,1799.3 L792.9,1796.4 L793.5,1793.5 L794.2,1790.5 L794.8,1787.6 L795.5,1784.7 L796.1,1781.8 L796.8,1778.8 L797.5,1775.9 L798.1,1773.0 L798.8,1770.1 L799.5,1767.1 L800.2,1764.2 L800.9,1761.3 L801.6,1758.4 L802.3,1755.5 L803.0,1752.5 L803.7,1749.6 L804.4,1746.7 L805.1,1743.8 L805.8,1740.9 L806.5,1738.0 L807.2,1735.1 L807.9,1732.1 L808.7,1729.2 L809.5,1726.3 L810.3,1723.5 L811.2,1720.6 L812.1,1717.7 L813.0,1714.9 L814.0,1712.1 L815.1,1709.2 L816.1,1706.4 L817.2,1703.7 L818.3,1700.9 L819.5,1698.1 L820.7,1695.4 L822.0,1692.6 L823.3,1689.9 L824.6,1687.3 L826.0,1684.6 L827.4,1682.0 L829.0,1679.5 L830.6,1677.0 L832.4,1674.7 L834.4,1672.6 L836.6,1670.8 L839.1,1669.3 L841.6,1668.1 L844.4,1667.3 L847.2,1666.9 L850.1,1666.8 L852.9,1667.2 L855.7,1667.9 L858.4,1668.9 L860.9,1670.3 L863.2,1672.0 L865.4,1673.9 L867.4,1676.0 L869.3,1678.4 L871.0,1680.8 L872.6,1683.3 L874.1,1685.9 L875.5,1688.5 L877.0,1691.1 L878.3,1693.8 L879.6,1696.5 L880.9,1699.2 L882.2,1701.9 L883.4,1704.7 L884.6,1707.4 L885.7,1710.2 L886.9,1713.0 L888.1,1715.7 L889.2,1718.5 L890.4,1721.3 L891.5,1724.0 L892.7,1726.8 L893.8,1729.6 L894.9,1732.4 L896.1,1735.1 L897.2,1737.9 L898.3,1740.7 L899.3,1743.5 L900.4,1746.3 L901.5,1749.1 L902.5,1752.0 L903.5,1754.8 L904.4,1757.6 L905.3,1760.5 L906.2,1763.3 L907.1,1766.2 L907.9,1769.1 L908.7,1772.0 L909.5,1774.9 L910.3,1777.8 L911.0,1780.7 L911.7,1783.6 L912.5,1786.5 L913.2,1789.4 L913.9,1792.3 L914.6,1795.3 L915.3,1798.2 L916.0,1801.1 L916.8,1804.0 L917.5,1806.9 L918.3,1809.8 L919.0,1812.7 L919.8,1815.6 L920.5,1818.5 L921.3,1821.4 L922.1,1824.3 L922.8,1827.2 L923.6,1830.1 L924.3,1833.0 L925.1,1835.9 L925.8,1838.8 L926.6,1841.7 L927.3,1844.7 L928.0,1847.6 L928.7,1850.5 L929.4,1853.4 L930.0,1856.3 L930.7,1859.3 L931.4,1862.2 L932.0,1865.1 L932.7,1868.0 L933.3,1871.0 L933.9,1873.9 L934.6,1876.8 L935.2,1879.8 L935.8,1882.7 L936.4,1885.6 L937.1,1888.6 L937.7,1891.5 L938.3,1894.4 L938.9,1897.4 L939.6,1900.3 L940.2,1903.2 L940.8,1906.2 L941.5,1909.1 L942.1,1912.0 L942.7,1915.0 L943.3,1917.9 L944.0,1920.8 L944.6,1923.8 L945.2,1926.7 L945.8,1929.6 L946.5,1932.6 L947.1,1935.5 L947.7,1938.5 L948.3,1941.4 L948.9,1944.3 L949.5,1947.3 L950.1,1950.2 L950.7,1953.1 L951.3,1956.1 L951.9,1959.0 L952.5,1962.0 L953.1,1964.9 L953.7,1967.9 L954.3,1970.8 L954.9,1973.7 L955.4,1976.7 L956.0,1979.6 L956.6,1982.6 L957.2,1985.5 L957.8,1988.5 L958.3,1991.4 L958.9,1994.3 L959.5,1997.3 L960.0,2000.2 L960.6,2003.2 L961.2,2006.1 L961.7,2009.1 L962.3,2012.0 L962.9,2015.0 L963.4,2017.9 L964.0,2020.9 L964.5,2023.8 L965.1,2026.8 L965.7,2029.7 L966.2,2032.7 L966.8,2035.6 L967.3,2038.5 L967.9,2041.5 L968.4,2044.4 L969.0,2047.4 L969.6,2050.3 L970.1,2053.3 L970.7,2056.2 L971.2,2059.2 L971.8,2062.1 L972.4,2065.1 L972.9,2068.0 L973.5,2071.0 L974.1,2073.9 L974.6,2076.9 L975.2,2079.8 L975.7,2082.8 L976.3,2085.7 L976.9,2088.7 L977.4,2091.6 L978.0,2094.5 L978.5,2097.5 L979.1,2100.4 L979.6,2103.4 L980.2,2106.3 L980.7,2109.3 L981.3,2112.2 L981.8,2115.2 L982.3,2118.1 L982.9,2121.1 L983.4,2124.0 L983.9,2127.0 L984.5,2129.9 L985.0,2132.9 L985.6,2135.8 L986.1,2138.8 L986.7,2141.7 L987.3,2144.7 L987.9,2147.6 L988.4,2150.6 L989.0,2153.5 L989.6,2156.5 L990.2,2159.4 L990.8,2162.3 L991.5,2165.3 L992.1,2168.2 L992.7,2171.1 L993.3,2174.1 L994.0,2177.0 L994.6,2179.9 L995.2,2182.9 L995.9,2185.8 L996.5,2188.7 L997.1,2191.7 L997.8,2194.6 L998.4,2197.5 L999.0,2200.5 L999.7,2203.4 L1000.3,2206.3 L1000.9,2209.3 L1001.6,2212.2 L1002.2,2215.1 L1002.9,2218.0 L1003.5,2221.0 L1004.2,2223.9 L1004.9,2226.8 L1005.5,2229.8 L1006.2,2232.7 L1006.8,2235.6 L1007.5,2238.5 L1008.1,2241.5 L1008.7,2244.4 L1009.3,2247.4 L1009.9,2250.3 L1010.4,2253.2 L1011.0,2256.2 L1011.5,2259.1 L1012.0,2262.1 L1012.4,2265.1 L1012.8,2268.0 L1013.3,2271.0 L1013.6,2274.0 L1014.0,2277.0 L1014.4,2279.9 L1014.7,2282.9 L1015.0,2285.9 L1015.4,2288.9 L1015.7,2291.9 L1016.0,2294.9 L1016.4,2297.8 L1016.7,2300.8 L1017.1,2303.8 L1017.5,2306.8 L1017.9,2309.7 L1018.3,2312.7 L1018.8,2315.7 L1019.3,2318.6 L1019.8,2321.6 L1020.3,2324.5 L1020.9,2327.5 L1021.4,2330.4 L1022.0,2333.4 L1022.6,2336.3 L1023.2,2339.2 L1023.9,2342.2 L1024.5,2345.1 L1025.1,2348.0 L1025.8,2351.0 L1026.4,2353.9 L1027.1,2356.8 L1027.8,2359.7 L1028.5,2362.7 L1029.2,2365.6 L1029.9,2368.5 L1030.6,2371.4 L1031.3,2374.3 L1032.0,2377.2 L1032.7,2380.1 L1033.4,2383.1 L1034.1,2386.0 L1034.8,2388.9 L1035.4,2391.8 L1036.1,2394.8 L1036.7,2397.7 L1037.3,2400.6 L1037.9,2403.6 L1038.5,2406.5 L1039.1,2409.5 L1039.7,2412.4 L1040.2,2415.4 L1040.8,2418.3 L1041.3,2421.2 L1041.9,2424.2 L1042.4,2427.1 L1043.0,2430.1 L1043.5,2433.1 L1044.0,2436.0 L1044.5,2439.0 L1045.0,2441.9 L1045.5,2444.9 L1046.0,2447.8 L1046.5,2450.8 L1046.9,2453.8 L1047.4,2456.7 L1047.9,2459.7 L1048.4,2462.6 L1048.9,2465.6 L1049.4,2468.6 L1049.9,2471.5 L1050.5,2474.5 L1051.0,2477.4 L1051.5,2480.4 L1052.0,2483.3 L1052.6,2486.3 L1053.1,2489.2 L1053.7,2492.2 L1054.3,2495.1 L1054.9,2498.1 L1055.5,2501.0 L1056.2,2503.9 L1056.9,2506.8 L1057.7,2509.7 L1058.5,2512.6 L1059.4,2515.5 L1060.3,2518.3 L1061.3,2521.2 L1062.3,2524.0 L1063.3,2526.8 L1064.3,2529.6 L1065.3,2532.5 L1066.2,2535.3 L1067.2,2538.1 L1068.0,2541.0 L1068.9,2543.9 L1069.6,2546.8 L1070.4,2549.7 L1071.1,2552.6 L1071.8,2555.5 L1072.5,2558.4 L1073.2,2561.4 L1073.8,2564.3 L1074.5,2567.2 L1075.2,2570.1 L1075.9,2573.1 L1076.6,2576.0 L1077.3,2578.9 L1078.0,2581.8 L1078.8,2584.7 L1079.5,2587.6 L1080.3,2590.5 L1081.1,2593.4 L1081.9,2596.3 L1082.7,2599.2 L1083.5,2602.1 L1084.3,2605.0 L1085.1,2607.8 L1086.0,2610.7 L1086.8,2613.6 L1087.7,2616.5 L1088.5,2619.4 L1089.4,2622.2 L1090.2,2625.1 L1091.1,2628.0 L1091.9,2630.9 L1092.8,2633.7 L1093.7,2636.6 L1094.5,2639.5 L1095.4,2642.3 L1096.3,2645.2 L1097.3,2648.1 L1098.2,2650.9 L1099.2,2653.7 L1100.2,2656.6 L1101.2,2659.4 L1102.2,2662.2 L1103.3,2665.0 L1104.4,2667.8 L1105.6,2670.6 L1106.7,2673.3 L1107.9,2676.1 L1109.1,2678.8 L1110.4,2681.5 L1111.6,2684.3 L1112.9,2687.0 L1114.3,2689.7 L1115.6,2692.3 L1117.0,2695.0 L1118.4,2697.7 L1119.8,2700.3 L1121.3,2702.9 L1122.7,2705.5 L1124.3,2708.1 L1125.9,2710.6 L1127.5,2713.1 L1129.2,2715.6 L1131.0,2718.0 L1132.9,2720.3 L1134.8,2722.6 L1136.8,2724.8 L1138.9,2727.0 L1141.0,2729.1 L1143.2,2731.1 L1145.5,2733.1 L1147.8,2735.0 L1150.1,2736.9 L1152.4,2738.8 L1154.8,2740.6 L1157.0,2742.5 L1159.2,2744.6 L1161.3,2746.7 L1163.2,2749.0 L1165.0,2751.3 L1166.7,2753.8 L1168.2,2756.3 L1169.7,2758.9 L1171.2,2761.5 L1172.6,2764.2 L1173.9,2766.9 L1175.3,2769.6 L1176.6,2772.2 L1178.0,2774.9 L1179.4,2777.5 L1180.9,2780.1 L1182.4,2782.6 L1184.1,2785.0 L1185.8,2787.1 L1187.6,2788.8 L1189.5,2789.9 L1191.4,2790.2 L1193.3,2789.6 L1195.0,2788.2 L1196.6,2786.3 L1197.9,2783.9 L1199.1,2781.3 L1200.2,2778.5 L1201.1,2775.7 L1201.9,2772.9 L1202.7,2770.0 L1203.4,2767.0 L1204.1,2764.1 L1204.8,2761.2 L1205.4,2758.3 L1206.1,2755.4 L1206.9,2752.4 L1207.6,2749.5 L1208.3,2746.6 L1209.1,2743.7 L1209.8,2740.8 L1209.8,2740.8" fill="none" stroke="#ff0000" stroke-width="5.8" stroke-linejoin="round" stroke-linecap="butt"/>
</g>
<g clip-path="url(#cd)">
<path d="M1300.0,2852.5 L1302.0,2845.2 L1304.0,2838.0 L1306.0,2830.7 L1308.0,2823.5 L1310.0,2816.3 L1312.0,2809.1 L1314.0,2801.9 L1316.0,2794.7 L1318.0,2787.5 L1320.0,2780.3 L1322.0,2773.1 L1324.0,2766.0 L1326.0,2758.8 L1328.0,2751.7 L1330.0,2744.6 L1332.0,2737.4 L1334.0,2730.3 L1336.0,2723.2 L1338.0,2716.2 L1340.0,2709.1 L1342.0,2702.0 L1344.0,2695.0 L1346.0,2687.9 L1348.0,2680.9 L1350.0,2673.9 L1352.0,2666.9 L1354.0,2659.9 L1356.0,2652.9 L1358.0,2646.0 L1360.0,2639.0 L1362.0,2632.1 L1364.0,2625.2 L1366.0,2618.3 L1368.0,2611.4 L1370.0,2604.5 L1372.0,2597.6 L1374.0,2590.8 L1376.0,2583.9 L1378.0,2577.1 L1380.0,2570.3 L1382.0,2563.5 L1384.0,2556.8 L1386.0,2550.0 L1388.0,2543.3 L1390.0,2536.5 L1392.0,2529.8 L1394.0,2523.1 L1396.0,2516.5 L1398.0,2509.8 L1400.0,2503.2 L1402.0,2496.6 L1404.0,2489.9 L1406.0,2483.4 L1408.0,2476.8 L1410.0,2470.2 L1412.0,2463.7 L1414.0,2457.2 L1416.0,2450.7 L1418.0,2444.2 L1420.0,2437.8 L1422.0,2431.3 L1424.0,2424.9 L1426.0,2418.5 L1428.0,2412.1 L1430.0,2405.8 L1432.0,2399.4 L1434.0,2393.1 L1436.0,2386.8 L1438.0,2380.5 L1440.0,2374.3 L1442.0,2368.1 L1444.0,2361.8 L1446.0,2355.6 L1448.0,2349.5 L1450.0,2343.3 L1452.0,2337.2 L1454.0,2331.1 L1456.0,2325.0 L1458.0,2318.9 L1460.0,2312.9 L1462.0,2306.9 L1464.0,2300.9 L1466.0,2294.9 L1468.0,2288.9 L1470.0,2283.0 L1472.0,2277.1 L1474.0,2271.2 L1476.0,2265.4 L1478.0,2259.5 L1480.0,2253.7 L1482.0,2247.9 L1484.0,2242.2 L1486.0,2236.4 L1488.0,2230.7 L1490.0,2225.0 L1492.0,2219.3 L1494.0,2213.7 L1496.0,2208.1 L1498.0,2202.5 L1500.0,2196.9 L1502.0,2191.4 L1504.0,2185.8 L1506.0,2180.4 L1508.0,2174.9 L1510.0,2169.4 L1512.0,2164.0 L1514.0,2158.6 L1516.0,2153.3 L1518.0,2147.9 L1520.0,2142.6 L1522.0,2137.3 L1524.0,2132.1 L1526.0,2126.8 L1528.0,2121.6 L1530.0,2116.4 L1532.0,2111.3 L1534.0,2106.1 L1536.0,2101.0 L1538.0,2096.0 L1540.0,2090.9 L1542.0,2085.9 L1544.0,2080.9 L1546.0,2075.9 L1548.0,2071.0 L1550.0,2066.1 L1552.0,2061.2 L1554.0,2056.4 L1556.0,2051.5 L1558.0,2046.7 L1560.0,2042.0 L1562.0,2037.2 L1564.0,2032.5 L1566.0,2027.8 L1568.0,2023.2 L1570.0,2018.5 L1572.0,2013.9 L1574.0,2009.4 L1576.0,2004.8 L1578.0,2000.3 L1580.0,1995.8 L1582.0,1991.4 L1584.0,1987.0 L1586.0,1982.6 L1588.0,1978.2 L1590.0,1973.9 L1592.0,1969.5 L1594.0,1965.3 L1596.0,1961.0 L1598.0,1956.8 L1600.0,1952.6 L1602.0,1948.5 L1604.0,1944.3 L1606.0,1940.2 L1608.0,1936.2 L1610.0,1932.1 L1612.0,1928.1 L1614.0,1924.1 L1616.0,1920.2 L1618.0,1916.3 L1620.0,1912.4 L1622.0,1908.5 L1624.0,1904.7 L1626.0,1900.9 L1628.0,1897.1 L1630.0,1893.4 L1632.0,1889.7 L1634.0,1886.0 L1636.0,1882.4 L1638.0,1878.8 L1640.0,1875.2 L1642.0,1871.6 L1644.0,1868.1 L1646.0,1864.6 L1648.0,1861.2 L1650.0,1857.8 L1652.0,1854.4 L1654.0,1851.0 L1656.0,1847.7 L1658.0,1844.4 L1660.0,1841.1 L1662.0,1837.9 L1664.0,1834.7 L1666.0,1831.5 L1668.0,1828.3 L1670.0,1825.2 L1672.0,1822.2 L1674.0,1819.1 L1676.0,1816.1 L1678.0,1813.1 L1680.0,1810.2 L1682.0,1807.2 L1684.0,1804.4 L1686.0,1801.5 L1688.0,1798.7 L1690.0,1795.9 L1692.0,1793.1 L1694.0,1790.4 L1696.0,1787.7 L1698.0,1785.0 L1700.0,1782.4 L1702.0,1779.8 L1704.0,1777.2 L1706.0,1774.7 L1708.0,1772.2 L1710.0,1769.7 L1712.0,1767.3 L1714.0,1764.9 L1716.0,1762.5 L1718.0,1760.2 L1720.0,1757.8 L1722.0,1755.6 L1724.0,1753.3 L1726.0,1751.1 L1728.0,1748.9 L1730.0,1746.8 L1732.0,1744.6 L1734.0,1742.6 L1736.0,1740.5 L1738.0,1738.5 L1740.0,1736.5 L1742.0,1734.5 L1744.0,1732.6 L1746.0,1730.7 L1748.0,1728.9 L1750.0,1727.0 L1752.0,1725.2 L1754.0,1723.5 L1756.0,1721.7 L1758.0,1720.0 L1760.0,1718.4 L1762.0,1716.7 L1764.0,1715.1 L1766.0,1713.6 L1768.0,1712.0 L1770.0,1710.5 L1772.0,1709.0 L1774.0,1707.6 L1776.0,1706.2 L1778.0,1704.8 L1780.0,1703.4 L1782.0,1702.1 L1784.0,1700.8 L1786.0,1699.6 L1788.0,1698.4 L1790.0,1697.2 L1792.0,1696.0 L1794.0,1694.9 L1796.0,1693.8 L1798.0,1692.8 L1800.0,1691.7 L1802.0,1690.7 L1804.0,1689.8 L1806.0,1688.8 L1808.0,1687.9 L1810.0,1687.1 L1812.0,1686.2 L1814.0,1685.4 L1816.0,1684.6 L1818.0,1683.9 L1820.0,1683.2 L1822.0,1682.5 L1824.0,1681.9 L1826.0,1681.2 L1828.0,1680.7 L1830.0,1680.1 L1832.0,1679.6 L1834.0,1679.1 L1836.0,1678.6 L1838.0,1678.2 L1840.0,1677.8 L1842.0,1677.4 L1844.0,1677.1 L1846.0,1676.8 L1848.0,1676.5 L1850.0,1676.3 L1852.0,1676.1 L1854.0,1675.9 L1856.0,1675.7 L1858.0,1675.6 L1860.0,1675.5 L1862.0,1675.5 L1864.0,1675.4 L1866.0,1675.5 L1868.0,1675.5 L1870.0,1675.6 L1872.0,1675.6 L1874.0,1675.8 L1876.0,1675.9 L1878.0,1676.1 L1880.0,1676.3 L1882.0,1676.6 L1884.0,1676.9 L1886.0,1677.2 L1888.0,1677.5 L1890.0,1677.9 L1892.0,1678.3 L1894.0,1678.7 L1896.0,1679.2 L1898.0,1679.6 L1900.0,1680.2 L1902.0,1680.7 L1904.0,1681.3 L1906.0,1681.9 L1908.0,1682.5 L1910.0,1683.2 L1912.0,1683.9 L1914.0,1684.6 L1916.0,1685.4 L1918.0,1686.1 L1920.0,1687.0 L1922.0,1687.8 L1924.0,1688.7 L1926.0,1689.6 L1928.0,1690.5 L1930.0,1691.4 L1932.0,1692.4 L1934.0,1693.4 L1936.0,1694.5 L1938.0,1695.6 L1940.0,1696.7 L1942.0,1697.8 L1944.0,1698.9 L1946.0,1700.1 L1948.0,1701.3 L1950.0,1702.6 L1952.0,1703.8 L1954.0,1705.1 L1956.0,1706.4 L1958.0,1707.8 L1960.0,1709.2 L1962.0,1710.6 L1964.0,1712.0 L1966.0,1713.5 L1968.0,1714.9 L1970.0,1716.5 L1972.0,1718.0 L1974.0,1719.6 L1976.0,1721.1 L1978.0,1722.8 L1980.0,1724.4 L1982.0,1726.1 L1984.0,1727.8 L1986.0,1729.5 L1988.0,1731.3 L1990.0,1733.0 L1992.0,1734.8 L1994.0,1736.7 L1996.0,1738.5 L1998.0,1740.4 L2000.0,1742.3 L2002.0,1744.2 L2004.0,1746.2 L2006.0,1748.2 L2008.0,1750.2 L2010.0,1752.2 L2012.0,1754.3 L2014.0,1756.4 L2016.0,1758.5 L2018.0,1760.6 L2020.0,1762.8 L2022.0,1764.9 L2024.0,1767.2 L2026.0,1769.4 L2028.0,1771.6 L2030.0,1773.9 L2032.0,1776.2 L2034.0,1778.5 L2036.0,1780.9 L2038.0,1783.3 L2040.0,1785.7 L2042.0,1788.1 L2044.0,1790.5 L2046.0,1793.0 L2048.0,1795.5 L2050.0,1798.0 L2052.0,1800.5 L2054.0,1803.1 L2056.0,1805.7 L2058.0,1808.3 L2060.0,1810.9 L2062.0,1813.5 L2064.0,1816.2 L2066.0,1818.9 L2068.0,1821.6 L2070.0,1824.3 L2072.0,1827.1 L2074.0,1829.9 L2076.0,1832.7 L2078.0,1835.5 L2080.0,1838.3 L2082.0,1841.2 L2084.0,1844.1 L2086.0,1847.0 L2088.0,1849.9 L2090.0,1852.8 L2092.0,1855.8 L2094.0,1858.8 L2096.0,1861.8 L2098.0,1864.8 L2100.0,1867.8 L2102.0,1870.9 L2104.0,1874.0 L2106.0,1877.1 L2108.0,1880.2 L2110.0,1883.3 L2112.0,1886.5 L2114.0,1889.6 L2116.0,1892.8 L2118.0,1896.0 L2120.0,1899.3 L2122.0,1902.5 L2124.0,1905.8 L2126.0,1909.1 L2128.0,1912.4 L2130.0,1915.7 L2132.0,1919.0 L2134.0,1922.4 L2136.0,1925.7 L2138.0,1929.1 L2140.0,1932.5 L2142.0,1935.9 L2144.0,1939.4 L2146.0,1942.8 L2148.0,1946.3 L2150.0,1949.8 L2152.0,1953.3 L2154.0,1956.8 L2156.0,1960.3 L2158.0,1963.8 L2160.0,1967.4 L2162.0,1971.0 L2164.0,1974.6 L2166.0,1978.2 L2168.0,1981.8 L2170.0,1985.4 L2172.0,1989.0 L2174.0,1992.7 L2176.0,1996.4 L2178.0,2000.1 L2180.0,2003.8 L2182.0,2007.5 L2184.0,2011.2 L2186.0,2014.9 L2188.0,2018.7 L2190.0,2022.4 L2192.0,2026.2 L2194.0,2030.0 L2196.0,2033.8 L2198.0,2037.6 L2200.0,2041.4 L2202.0,2045.3 L2204.0,2049.1 L2206.0,2052.9 L2208.0,2056.8 L2210.0,2060.7 L2212.0,2064.6 L2214.0,2068.5 L2216.0,2072.4 L2218.0,2076.3 L2220.0,2080.2 L2222.0,2084.2 L2224.0,2088.1 L2226.0,2092.1 L2228.0,2096.0 L2230.0,2100.0 L2232.0,2104.0 L2234.0,2108.0 L2236.0,2111.9 L2238.0,2116.0 L2240.0,2120.0 L2242.0,2124.0 L2244.0,2128.0 L2246.0,2132.0 L2248.0,2136.1 L2250.0,2140.1 L2252.0,2144.2 L2254.0,2148.2 L2256.0,2152.3 L2258.0,2156.4 L2260.0,2160.5 L2262.0,2164.5 L2264.0,2168.6 L2266.0,2172.7 L2268.0,2176.8 L2270.0,2180.9 L2272.0,2185.0 L2274.0,2189.2 L2276.0,2193.3 L2278.0,2197.4 L2280.0,2201.5 L2282.0,2205.6 L2284.0,2209.8 L2285.0,2211.8" fill="none" stroke="#444444" stroke-width="4.2" stroke-linejoin="round" stroke-linecap="butt"/>
<path d="M1300.0,2155.0 L1302.0,2151.4 L1304.0,2147.7 L1306.0,2143.9 L1308.0,2140.0 L1310.0,2136.0 L1312.0,2132.0 L1314.0,2127.9 L1316.0,2123.7 L1318.0,2119.5 L1320.0,2115.2 L1322.0,2110.9 L1324.0,2106.6 L1326.0,2102.2 L1328.0,2097.8 L1330.0,2093.4 L1332.0,2089.0 L1334.0,2084.5 L1336.0,2080.0 L1338.0,2075.5 L1340.0,2071.0 L1342.0,2066.6 L1344.0,2062.1 L1346.0,2057.6 L1348.0,2053.1 L1350.0,2048.6 L1352.0,2044.2 L1354.0,2039.7 L1356.0,2035.3 L1358.0,2030.9 L1360.0,2026.5 L1362.0,2022.2 L1364.0,2017.8 L1366.0,2013.5 L1368.0,2009.3 L1370.0,2005.0 L1372.0,2000.8 L1374.0,1996.7 L1376.0,1992.5 L1378.0,1988.4 L1380.0,1984.4 L1382.0,1980.4 L1384.0,1976.4 L1386.0,1972.5 L1388.0,1968.6 L1390.0,1964.7 L1392.0,1960.9 L1394.0,1957.1 L1396.0,1953.4 L1398.0,1949.7 L1400.0,1946.1 L1402.0,1942.5 L1404.0,1938.9 L1406.0,1935.4 L1408.0,1931.9 L1410.0,1928.5 L1412.0,1925.1 L1414.0,1921.7 L1416.0,1918.4 L1418.0,1915.1 L1420.0,1911.8 L1422.0,1908.6 L1424.0,1905.4 L1426.0,1902.2 L1428.0,1899.1 L1430.0,1896.0 L1432.0,1892.9 L1434.0,1889.9 L1436.0,1886.8 L1438.0,1883.9 L1440.0,1880.9 L1442.0,1878.0 L1444.0,1875.1 L1446.0,1872.2 L1448.0,1869.4 L1450.0,1866.6 L1452.0,1863.8 L1454.0,1861.1 L1456.0,1858.3 L1458.0,1855.6 L1460.0,1852.9 L1462.0,1850.3 L1464.0,1847.7 L1466.0,1845.1 L1468.0,1842.5 L1470.0,1839.9 L1472.0,1837.4 L1474.0,1834.9 L1476.0,1832.4 L1478.0,1829.9 L1480.0,1827.4 L1482.0,1825.0 L1484.0,1822.6 L1486.0,1820.2 L1488.0,1817.9 L1490.0,1815.5 L1492.0,1813.2 L1494.0,1810.9 L1496.0,1808.6 L1498.0,1806.3 L1500.0,1804.1 L1502.0,1801.9 L1504.0,1799.7 L1506.0,1797.5 L1508.0,1795.3 L1510.0,1793.2 L1512.0,1791.0 L1514.0,1788.9 L1516.0,1786.8 L1518.0,1784.8 L1520.0,1782.7 L1522.0,1780.7 L1524.0,1778.6 L1526.0,1776.6 L1528.0,1774.6 L1530.0,1772.7 L1532.0,1770.7 L1534.0,1768.8 L1536.0,1766.9 L1538.0,1765.0 L1540.0,1763.1 L1542.0,1761.3 L1544.0,1759.4 L1546.0,1757.6 L1548.0,1755.8 L1550.0,1754.0 L1552.0,1752.2 L1554.0,1750.5 L1556.0,1748.8 L1558.0,1747.0 L1560.0,1745.4 L1562.0,1743.7 L1564.0,1742.0 L1566.0,1740.4 L1568.0,1738.8 L1570.0,1737.2 L1572.0,1735.6 L1574.0,1734.0 L1576.0,1732.5 L1578.0,1731.0 L1580.0,1729.5 L1582.0,1728.0 L1584.0,1726.5 L1586.0,1725.1 L1588.0,1723.7 L1590.0,1722.3 L1592.0,1720.9 L1594.0,1719.5 L1596.0,1718.2 L1598.0,1716.9 L1600.0,1715.6 L1602.0,1714.3 L1604.0,1713.1 L1606.0,1711.8 L1608.0,1710.6 L1610.0,1709.4 L1612.0,1708.2 L1614.0,1707.1 L1616.0,1706.0 L1618.0,1704.8 L1620.0,1703.8 L1622.0,1702.7 L1624.0,1701.6 L1626.0,1700.6 L1628.0,1699.6 L1630.0,1698.6 L1632.0,1697.7 L1634.0,1696.7 L1636.0,1695.8 L1638.0,1694.9 L1640.0,1694.0 L1642.0,1693.2 L1644.0,1692.3 L1646.0,1691.5 L1648.0,1690.7 L1650.0,1690.0 L1652.0,1689.2 L1654.0,1688.5 L1656.0,1687.8 L1658.0,1687.1 L1660.0,1686.4 L1662.0,1685.8 L1664.0,1685.2 L1666.0,1684.6 L1668.0,1684.0 L1670.0,1683.5 L1672.0,1683.0 L1674.0,1682.4 L1676.0,1682.0 L1678.0,1681.5 L1680.0,1681.1 L1682.0,1680.6 L1684.0,1680.3 L1686.0,1679.9 L1688.0,1679.5 L1690.0,1679.2 L1692.0,1678.9 L1694.0,1678.6 L1696.0,1678.3 L1698.0,1678.1 L1700.0,1677.9 L1702.0,1677.7 L1704.0,1677.5 L1706.0,1677.4 L1708.0,1677.2 L1710.0,1677.1 L1712.0,1677.1 L1714.0,1677.0 L1716.0,1677.0 L1718.0,1676.9 L1720.0,1676.9 L1722.0,1677.0 L1724.0,1677.0 L1726.0,1677.1 L1728.0,1677.2 L1730.0,1677.3 L1732.0,1677.4 L1734.0,1677.6 L1736.0,1677.8 L1738.0,1678.0 L1740.0,1678.2 L1742.0,1678.4 L1744.0,1678.7 L1746.0,1679.0 L1748.0,1679.3 L1750.0,1679.7 L1752.0,1680.0 L1754.0,1680.4 L1756.0,1680.8 L1758.0,1681.2 L1760.0,1681.7 L1762.0,1682.1 L1764.0,1682.6 L1766.0,1683.1 L1768.0,1683.6 L1770.0,1684.2 L1772.0,1684.8 L1774.0,1685.4 L1776.0,1686.0 L1778.0,1686.6 L1780.0,1687.3 L1782.0,1688.0 L1784.0,1688.7 L1786.0,1689.4 L1788.0,1690.1 L1790.0,1690.9 L1792.0,1691.7 L1794.0,1692.5 L1796.0,1693.3 L1798.0,1694.2 L1800.0,1695.0 L1802.0,1695.9 L1804.0,1696.8 L1806.0,1697.8 L1808.0,1698.7 L1810.0,1699.7 L1812.0,1700.7 L1814.0,1701.7 L1816.0,1702.7 L1818.0,1703.8 L1820.0,1704.9 L1822.0,1706.0 L1824.0,1707.1 L1826.0,1708.2 L1828.0,1709.4 L1830.0,1710.5 L1832.0,1711.7 L1834.0,1712.9 L1836.0,1714.2 L1838.0,1715.4 L1840.0,1716.7 L1842.0,1718.0 L1844.0,1719.3 L1846.0,1720.6 L1848.0,1722.0 L1850.0,1723.3 L1852.0,1724.7 L1854.0,1726.1 L1856.0,1727.6 L1858.0,1729.0 L1860.0,1730.5 L1862.0,1731.9 L1864.0,1733.4 L1866.0,1735.0 L1868.0,1736.5 L1870.0,1738.1 L1872.0,1739.6 L1874.0,1741.2 L1876.0,1742.8 L1878.0,1744.5 L1880.0,1746.1 L1882.0,1747.8 L1884.0,1749.5 L1886.0,1751.2 L1888.0,1752.9 L1890.0,1754.6 L1892.0,1756.4 L1894.0,1758.1 L1896.0,1759.9 L1898.0,1761.7 L1900.0,1763.5 L1902.0,1765.4 L1904.0,1767.2 L1906.0,1769.1 L1908.0,1771.0 L1910.0,1772.9 L1912.0,1774.8 L1914.0,1776.8 L1916.0,1778.7 L1918.0,1780.7 L1920.0,1782.7 L1922.0,1784.7 L1924.0,1786.7 L1926.0,1788.7 L1928.0,1790.8 L1930.0,1792.8 L1932.0,1794.9 L1934.0,1797.0 L1936.0,1799.1 L1938.0,1801.3 L1940.0,1803.4 L1942.0,1805.6 L1944.0,1807.7 L1946.0,1809.9 L1948.0,1812.1 L1950.0,1814.4 L1952.0,1816.6 L1954.0,1818.8 L1956.0,1821.1 L1958.0,1823.4 L1960.0,1825.7 L1962.0,1828.0 L1964.0,1830.3 L1966.0,1832.6 L1968.0,1835.0 L1970.0,1837.3 L1972.0,1839.7 L1974.0,1842.1 L1976.0,1844.5 L1978.0,1846.9 L1980.0,1849.3 L1982.0,1851.8 L1984.0,1854.2 L1986.0,1856.7 L1988.0,1859.2 L1990.0,1861.7 L1992.0,1864.2 L1994.0,1866.7 L1996.0,1869.2 L1998.0,1871.7 L2000.0,1874.3 L2002.0,1876.9 L2004.0,1879.4 L2006.0,1882.0 L2008.0,1884.6 L2010.0,1887.2 L2012.0,1889.9 L2014.0,1892.5 L2016.0,1895.1 L2018.0,1897.8 L2020.0,1900.5 L2022.0,1903.1 L2024.0,1905.8 L2026.0,1908.5 L2028.0,1911.2 L2030.0,1913.9 L2032.0,1916.7 L2034.0,1919.4 L2036.0,1922.1 L2038.0,1924.9 L2040.0,1927.7 L2042.0,1930.4 L2044.0,1933.2 L2046.0,1936.0 L2048.0,1938.8 L2050.0,1941.6 L2052.0,1944.4 L2054.0,1947.3 L2056.0,1950.1 L2058.0,1953.0 L2060.0,1955.8 L2062.0,1958.7 L2064.0,1961.6 L2066.0,1964.4 L2068.0,1967.3 L2070.0,1970.2 L2072.0,1973.1 L2074.0,1976.1 L2076.0,1979.0 L2078.0,1981.9 L2080.0,1984.9 L2082.0,1987.8 L2084.0,1990.8 L2086.0,1993.8 L2088.0,1996.8 L2090.0,1999.8 L2092.0,2002.8 L2094.0,2005.8 L2096.0,2008.9 L2098.0,2011.9 L2100.0,2015.0 L2102.0,2018.1 L2104.0,2021.2 L2106.0,2024.3 L2108.0,2027.4 L2110.0,2030.5 L2112.0,2033.7 L2114.0,2036.9 L2116.0,2040.0 L2118.0,2043.2 L2120.0,2046.5 L2122.0,2049.7 L2124.0,2053.0 L2126.0,2056.2 L2128.0,2059.5 L2130.0,2062.9 L2132.0,2066.2 L2134.0,2069.5 L2136.0,2072.9 L2138.0,2076.3 L2140.0,2079.7 L2142.0,2083.1 L2144.0,2086.6 L2146.0,2090.1 L2148.0,2093.6 L2150.0,2097.1 L2152.0,2100.6 L2154.0,2104.1 L2156.0,2107.7 L2158.0,2111.3 L2160.0,2114.9 L2162.0,2118.5 L2164.0,2122.1 L2166.0,2125.8 L2168.0,2129.5 L2170.0,2133.1 L2172.0,2136.8 L2174.0,2140.6 L2176.0,2144.3 L2178.0,2148.0 L2180.0,2151.8 L2182.0,2155.6 L2184.0,2159.4 L2186.0,2163.2 L2188.0,2167.0 L2190.0,2170.8 L2192.0,2174.6 L2194.0,2178.5 L2196.0,2182.3 L2198.0,2186.2 L2200.0,2190.0 L2202.0,2193.9 L2204.0,2197.7 L2206.0,2201.6 L2208.0,2205.5 L2210.0,2209.4 L2212.0,2213.2 L2214.0,2217.1 L2216.0,2221.0 L2218.0,2224.9 L2220.0,2228.7 L2222.0,2232.6 L2224.0,2236.5 L2226.0,2240.3 L2228.0,2244.1 L2230.0,2248.0 L2232.0,2251.8 L2234.0,2255.6 L2236.0,2259.4 L2238.0,2263.2 L2240.0,2267.0 L2242.0,2270.8 L2244.0,2274.6 L2246.0,2278.3 L2248.0,2282.1 L2250.0,2285.8 L2252.0,2289.5 L2254.0,2293.3 L2256.0,2297.0 L2258.0,2300.7 L2260.0,2304.3 L2262.0,2308.0 L2264.0,2311.7 L2266.0,2315.4 L2268.0,2319.0 L2270.0,2322.7 L2272.0,2326.3 L2274.0,2329.9 L2276.0,2333.6 L2278.0,2337.2 L2280.0,2340.8 L2282.0,2344.4 L2284.0,2348.0 L2285.0,2349.9" fill="none" stroke="#ff3030" stroke-width="4.2" stroke-linejoin="round" stroke-linecap="butt"/>
</g>
<rect x="230.0" y="32.5" width="976.5" height="1324.0" fill="none" stroke="#000" stroke-width="9" stroke-linejoin="miter"/>
<rect x="1304.0" y="43.0" width="976.0" height="1323.5" fill="none" stroke="#000" stroke-width="9" stroke-linejoin="miter"/>
<rect x="230.0" y="1589.5" width="976.5" height="1324.0" fill="none" stroke="#000" stroke-width="9" stroke-linejoin="miter"/>
<rect x="1304.0" y="1600.0" width="976.0" height="1323.5" fill="none" stroke="#000" stroke-width="9" stroke-linejoin="miter"/>
<line x1="251.2" y1="1356.5" x2="251.2" y2="1331.0" stroke="#000" stroke-width="9"/>
<line x1="251.2" y1="32.5" x2="251.2" y2="58.0" stroke="#000" stroke-width="9"/>
<line x1="347.4" y1="1356.5" x2="347.4" y2="1344.5" stroke="#000" stroke-width="9"/>
<line x1="347.4" y1="32.5" x2="347.4" y2="44.5" stroke="#000" stroke-width="9"/>
<line x1="443.5" y1="1356.5" x2="443.5" y2="1331.0" stroke="#000" stroke-width="9"/>
<line x1="443.5" y1="32.5" x2="443.5" y2="58.0" stroke="#000" stroke-width="9"/>
<line x1="539.7" y1="1356.5" x2="539.7" y2="1344.5" stroke="#000" stroke-width="9"/>
<line x1="539.7" y1="32.5" x2="539.7" y2="44.5" stroke="#000" stroke-width="9"/>
<line x1="635.8" y1="1356.5" x2="635.8" y2="1331.0" stroke="#000" stroke-width="9"/>
<line x1="635.8" y1="32.5" x2="635.8" y2="58.0" stroke="#000" stroke-width="9"/>
<line x1="732.0" y1="1356.5" x2="732.0" y2="1344.5" stroke="#000" stroke-width="9"/>
<line x1="732.0" y1="32.5" x2="732.0" y2="44.5" stroke="#000" stroke-width="9"/>
<line x1="828.1" y1="1356.5" x2="828.1" y2="1331.0" stroke="#000" stroke-width="9"/>
<line x1="828.1" y1="32.5" x2="828.1" y2="58.0" stroke="#000" stroke-width="9"/>
<line x1="924.3" y1="1356.5" x2="924.3" y2="1344.5" stroke="#000" stroke-width="9"/>
<line x1="924.3" y1="32.5" x2="924.3" y2="44.5" stroke="#000" stroke-width="9"/>
<line x1="1020.4" y1="1356.5" x2="1020.4" y2="1331.0" stroke="#000" stroke-width="9"/>
<line x1="1020.4" y1="32.5" x2="1020.4" y2="58.0" stroke="#000" stroke-width="9"/>
<line x1="1116.6" y1="1356.5" x2="1116.6" y2="1344.5" stroke="#000" stroke-width="9"/>
<line x1="1116.6" y1="32.5" x2="1116.6" y2="44.5" stroke="#000" stroke-width="9"/>
<line x1="230.0" y1="1318.0" x2="255.5" y2="1318.0" stroke="#000" stroke-width="9"/>
<line x1="1206.5" y1="1318.0" x2="1181.0" y2="1318.0" stroke="#000" stroke-width="9"/>
<line x1="230.0" y1="1166.9" x2="242.0" y2="1166.9" stroke="#000" stroke-width="9"/>
<line x1="1206.5" y1="1166.9" x2="1194.5" y2="1166.9" stroke="#000" stroke-width="9"/>
<line x1="230.0" y1="1015.7" x2="255.5" y2="1015.7" stroke="#000" stroke-width="9"/>
<line x1="1206.5" y1="1015.7" x2="1181.0" y2="1015.7" stroke="#000" stroke-width="9"/>
<line x1="230.0" y1="864.6" x2="242.0" y2="864.6" stroke="#000" stroke-width="9"/>
<line x1="1206.5" y1="864.6" x2="1194.5" y2="864.6" stroke="#000" stroke-width="9"/>
<line x1="230.0" y1="713.5" x2="255.5" y2="713.5" stroke="#000" stroke-width="9"/>
<line x1="1206.5" y1="713.5" x2="1181.0" y2="713.5" stroke="#000" stroke-width="9"/>
<line x1="230.0" y1="562.3" x2="242.0" y2="562.3" stroke="#000" stroke-width="9"/>
<line x1="1206.5" y1="562.3" x2="1194.5" y2="562.3" stroke="#000" stroke-width="9"/>
<line x1="230.0" y1="411.2" x2="255.5" y2="411.2" stroke="#000" stroke-width="9"/>
<line x1="1206.5" y1="411.2" x2="1181.0" y2="411.2" stroke="#000" stroke-width="9"/>
<line x1="230.0" y1="260.0" x2="242.0" y2="260.0" stroke="#000" stroke-width="9"/>
<line x1="1206.5" y1="260.0" x2="1194.5" y2="260.0" stroke="#000" stroke-width="9"/>
<line x1="230.0" y1="108.9" x2="255.5" y2="108.9" stroke="#000" stroke-width="9"/>
<line x1="1206.5" y1="108.9" x2="1181.0" y2="108.9" stroke="#000" stroke-width="9"/>
<line x1="251.2" y1="2913.5" x2="251.2" y2="2888.0" stroke="#000" stroke-width="9"/>
<line x1="251.2" y1="1589.5" x2="251.2" y2="1615.0" stroke="#000" stroke-width="9"/>
<line x1="347.4" y1="2913.5" x2="347.4" y2="2901.5" stroke="#000" stroke-width="9"/>
<line x1="347.4" y1="1589.5" x2="347.4" y2="1601.5" stroke="#000" stroke-width="9"/>
<line x1="443.5" y1="2913.5" x2="443.5" y2="2888.0" stroke="#000" stroke-width="9"/>
<line x1="443.5" y1="1589.5" x2="443.5" y2="1615.0" stroke="#000" stroke-width="9"/>
<line x1="539.7" y1="2913.5" x2="539.7" y2="2901.5" stroke="#000" stroke-width="9"/>
<line x1="539.7" y1="1589.5" x2="539.7" y2="1601.5" stroke="#000" stroke-width="9"/>
<line x1="635.8" y1="2913.5" x2="635.8" y2="2888.0" stroke="#000" stroke-width="9"/>
<line x1="635.8" y1="1589.5" x2="635.8" y2="1615.0" stroke="#000" stroke-width="9"/>
<line x1="732.0" y1="2913.5" x2="732.0" y2="2901.5" stroke="#000" stroke-width="9"/>
<line x1="732.0" y1="1589.5" x2="732.0" y2="1601.5" stroke="#000" stroke-width="9"/>
<line x1="828.1" y1="2913.5" x2="828.1" y2="2888.0" stroke="#000" stroke-width="9"/>
<line x1="828.1" y1="1589.5" x2="828.1" y2="1615.0" stroke="#000" stroke-width="9"/>
<line x1="924.3" y1="2913.5" x2="924.3" y2="2901.5" stroke="#000" stroke-width="9"/>
<line x1="924.3" y1="1589.5" x2="924.3" y2="1601.5" stroke="#000" stroke-width="9"/>
<line x1="1020.4" y1="2913.5" x2="1020.4" y2="2888.0" stroke="#000" stroke-width="9"/>
<line x1="1020.4" y1="1589.5" x2="1020.4" y2="1615.0" stroke="#000" stroke-width="9"/>
<line x1="1116.6" y1="2913.5" x2="1116.6" y2="2901.5" stroke="#000" stroke-width="9"/>
<line x1="1116.6" y1="1589.5" x2="1116.6" y2="1601.5" stroke="#000" stroke-width="9"/>
<line x1="230.0" y1="2875.0" x2="255.5" y2="2875.0" stroke="#000" stroke-width="9"/>
<line x1="1206.5" y1="2875.0" x2="1181.0" y2="2875.0" stroke="#000" stroke-width="9"/>
<line x1="230.0" y1="2723.9" x2="242.0" y2="2723.9" stroke="#000" stroke-width="9"/>
<line x1="1206.5" y1="2723.9" x2="1194.5" y2="2723.9" stroke="#000" stroke-width="9"/>
<line x1="230.0" y1="2572.7" x2="255.5" y2="2572.7" stroke="#000" stroke-width="9"/>
<line x1="1206.5" y1="2572.7" x2="1181.0" y2="2572.7" stroke="#000" stroke-width="9"/>
<line x1="230.0" y1="2421.6" x2="242.0" y2="2421.6" stroke="#000" stroke-width="9"/>
<line x1="1206.5" y1="2421.6" x2="1194.5" y2="2421.6" stroke="#000" stroke-width="9"/>
<line x1="230.0" y1="2270.4" x2="255.5" y2="2270.4" stroke="#000" stroke-width="9"/>
<line x1="1206.5" y1="2270.4" x2="1181.0" y2="2270.4" stroke="#000" stroke-width="9"/>
<line x1="230.0" y1="2119.3" x2="242.0" y2="2119.3" stroke="#000" stroke-width="9"/>
<line x1="1206.5" y1="2119.3" x2="1194.5" y2="2119.3" stroke="#000" stroke-width="9"/>
<line x1="230.0" y1="1968.2" x2="255.5" y2="1968.2" stroke="#000" stroke-width="9"/>
<line x1="1206.5" y1="1968.2" x2="1181.0" y2="1968.2" stroke="#000" stroke-width="9"/>
<line x1="230.0" y1="1817.0" x2="242.0" y2="1817.0" stroke="#000" stroke-width="9"/>
<line x1="1206.5" y1="1817.0" x2="1194.5" y2="1817.0" stroke="#000" stroke-width="9"/>
<line x1="230.0" y1="1665.9" x2="255.5" y2="1665.9" stroke="#000" stroke-width="9"/>
<line x1="1206.5" y1="1665.9" x2="1181.0" y2="1665.9" stroke="#000" stroke-width="9"/>
<line x1="1349.8" y1="1366.5" x2="1349.8" y2="1341.0" stroke="#000" stroke-width="9"/>
<line x1="1349.8" y1="43.0" x2="1349.8" y2="68.5" stroke="#000" stroke-width="9"/>
<line x1="1466.1" y1="1366.5" x2="1466.1" y2="1354.5" stroke="#000" stroke-width="9"/>
<line x1="1466.1" y1="43.0" x2="1466.1" y2="55.0" stroke="#000" stroke-width="9"/>
<line x1="1582.4" y1="1366.5" x2="1582.4" y2="1341.0" stroke="#000" stroke-width="9"/>
<line x1="1582.4" y1="43.0" x2="1582.4" y2="68.5" stroke="#000" stroke-width="9"/>
<line x1="1698.6" y1="1366.5" x2="1698.6" y2="1354.5" stroke="#000" stroke-width="9"/>
<line x1="1698.6" y1="43.0" x2="1698.6" y2="55.0" stroke="#000" stroke-width="9"/>
<line x1="1814.9" y1="1366.5" x2="1814.9" y2="1341.0" stroke="#000" stroke-width="9"/>
<line x1="1814.9" y1="43.0" x2="1814.9" y2="68.5" stroke="#000" stroke-width="9"/>
<line x1="1931.2" y1="1366.5" x2="1931.2" y2="1354.5" stroke="#000" stroke-width="9"/>
<line x1="1931.2" y1="43.0" x2="1931.2" y2="55.0" stroke="#000" stroke-width="9"/>
<line x1="2047.5" y1="1366.5" x2="2047.5" y2="1341.0" stroke="#000" stroke-width="9"/>
<line x1="2047.5" y1="43.0" x2="2047.5" y2="68.5" stroke="#000" stroke-width="9"/>
<line x1="2163.8" y1="1366.5" x2="2163.8" y2="1354.5" stroke="#000" stroke-width="9"/>
<line x1="2163.8" y1="43.0" x2="2163.8" y2="55.0" stroke="#000" stroke-width="9"/>
<line x1="2280.0" y1="1366.5" x2="2280.0" y2="1341.0" stroke="#000" stroke-width="9"/>
<line x1="2280.0" y1="43.0" x2="2280.0" y2="68.5" stroke="#000" stroke-width="9"/>
<line x1="2280.0" y1="123.0" x2="2254.5" y2="123.0" stroke="#000" stroke-width="9"/>
<line x1="2280.0" y1="514.5" x2="2268.0" y2="514.5" stroke="#000" stroke-width="9"/>
<line x1="2280.0" y1="906.0" x2="2254.5" y2="906.0" stroke="#000" stroke-width="9"/>
<line x1="2280.0" y1="1297.5" x2="2268.0" y2="1297.5" stroke="#000" stroke-width="9"/>
<line x1="1349.8" y1="2923.5" x2="1349.8" y2="2898.0" stroke="#000" stroke-width="9"/>
<line x1="1349.8" y1="1600.0" x2="1349.8" y2="1625.5" stroke="#000" stroke-width="9"/>
<line x1="1466.1" y1="2923.5" x2="1466.1" y2="2911.5" stroke="#000" stroke-width="9"/>
<line x1="1466.1" y1="1600.0" x2="1466.1" y2="1612.0" stroke="#000" stroke-width="9"/>
<line x1="1582.4" y1="2923.5" x2="1582.4" y2="2898.0" stroke="#000" stroke-width="9"/>
<line x1="1582.4" y1="1600.0" x2="1582.4" y2="1625.5" stroke="#000" stroke-width="9"/>
<line x1="1698.6" y1="2923.5" x2="1698.6" y2="2911.5" stroke="#000" stroke-width="9"/>
<line x1="1698.6" y1="1600.0" x2="1698.6" y2="1612.0" stroke="#000" stroke-width="9"/>
<line x1="1814.9" y1="2923.5" x2="1814.9" y2="2898.0" stroke="#000" stroke-width="9"/>
<line x1="1814.9" y1="1600.0" x2="1814.9" y2="1625.5" stroke="#000" stroke-width="9"/>
<line x1="1931.2" y1="2923.5" x2="1931.2" y2="2911.5" stroke="#000" stroke-width="9"/>
<line x1="1931.2" y1="1600.0" x2="1931.2" y2="1612.0" stroke="#000" stroke-width="9"/>
<line x1="2047.5" y1="2923.5" x2="2047.5" y2="2898.0" stroke="#000" stroke-width="9"/>
<line x1="2047.5" y1="1600.0" x2="2047.5" y2="1625.5" stroke="#000" stroke-width="9"/>
<line x1="2163.8" y1="2923.5" x2="2163.8" y2="2911.5" stroke="#000" stroke-width="9"/>
<line x1="2163.8" y1="1600.0" x2="2163.8" y2="1612.0" stroke="#000" stroke-width="9"/>
<line x1="2280.0" y1="2923.5" x2="2280.0" y2="2898.0" stroke="#000" stroke-width="9"/>
<line x1="2280.0" y1="1600.0" x2="2280.0" y2="1625.5" stroke="#000" stroke-width="9"/>
<line x1="2280.0" y1="1680.0" x2="2254.5" y2="1680.0" stroke="#000" stroke-width="9"/>
<line x1="2280.0" y1="2071.5" x2="2268.0" y2="2071.5" stroke="#000" stroke-width="9"/>
<line x1="2280.0" y1="2463.0" x2="2254.5" y2="2463.0" stroke="#000" stroke-width="9"/>
<line x1="2280.0" y1="2854.5" x2="2268.0" y2="2854.5" stroke="#000" stroke-width="9"/>
<text transform="translate(202.3,1335.6) scale(1,1.035)" style="font-family:'Liberation Serif',serif;font-weight:bold;font-size:57px" text-anchor="end">0.00</text>
<text transform="translate(202.3,1033.3) scale(1,1.035)" style="font-family:'Liberation Serif',serif;font-weight:bold;font-size:57px" text-anchor="end">0.25</text>
<text transform="translate(202.3,731.1) scale(1,1.035)" style="font-family:'Liberation Serif',serif;font-weight:bold;font-size:57px" text-anchor="end">0.50</text>
<text transform="translate(202.3,428.8) scale(1,1.035)" style="font-family:'Liberation Serif',serif;font-weight:bold;font-size:57px" text-anchor="end">0.75</text>
<text transform="translate(202.3,126.5) scale(1,1.035)" style="font-family:'Liberation Serif',serif;font-weight:bold;font-size:57px" text-anchor="end">1.00</text>
<text x="251.2" y="1429.0" style="font-family:'Liberation Serif',serif;font-weight:bold;font-size:57px" text-anchor="middle" >400</text>
<text x="443.5" y="1429.0" style="font-family:'Liberation Serif',serif;font-weight:bold;font-size:57px" text-anchor="middle" >600</text>
<text x="635.8" y="1429.0" style="font-family:'Liberation Serif',serif;font-weight:bold;font-size:57px" text-anchor="middle" >800</text>
<text x="828.1" y="1429.0" style="font-family:'Liberation Serif',serif;font-weight:bold;font-size:57px" text-anchor="middle" >1000</text>
<text x="1020.4" y="1429.0" style="font-family:'Liberation Serif',serif;font-weight:bold;font-size:57px" text-anchor="middle" >1200</text>
<text transform="translate(718.2,1538) scale(0.955,1)" style="font-family:'Liberation Serif',serif;font-weight:bold;font-size:72.5px" text-anchor="middle">Wavelength (nm)</text>
<text transform="translate(73,654.6) rotate(-90) scale(0.947,1)" style="font-family:'Liberation Serif',serif;font-weight:bold;font-size:72.5px" text-anchor="middle">Norm. Absorbance</text>
<text transform="translate(202.3,2892.6) scale(1,1.035)" style="font-family:'Liberation Serif',serif;font-weight:bold;font-size:57px" text-anchor="end">0.00</text>
<text transform="translate(202.3,2590.3) scale(1,1.035)" style="font-family:'Liberation Serif',serif;font-weight:bold;font-size:57px" text-anchor="end">0.25</text>
<text transform="translate(202.3,2288.0) scale(1,1.035)" style="font-family:'Liberation Serif',serif;font-weight:bold;font-size:57px" text-anchor="end">0.50</text>
<text transform="translate(202.3,1985.8) scale(1,1.035)" style="font-family:'Liberation Serif',serif;font-weight:bold;font-size:57px" text-anchor="end">0.75</text>
<text transform="translate(202.3,1683.5) scale(1,1.035)" style="font-family:'Liberation Serif',serif;font-weight:bold;font-size:57px" text-anchor="end">1.00</text>
<text x="251.2" y="2986.0" style="font-family:'Liberation Serif',serif;font-weight:bold;font-size:57px" text-anchor="middle" >400</text>
<text x="443.5" y="2986.0" style="font-family:'Liberation Serif',serif;font-weight:bold;font-size:57px" text-anchor="middle" >600</text>
<text x="635.8" y="2986.0" style="font-family:'Liberation Serif',serif;font-weight:bold;font-size:57px" text-anchor="middle" >800</text>
<text x="828.1" y="2986.0" style="font-family:'Liberation Serif',serif;font-weight:bold;font-size:57px" text-anchor="middle" >1000</text>
<text x="1020.4" y="2986.0" style="font-family:'Liberation Serif',serif;font-weight:bold;font-size:57px" text-anchor="middle" >1200</text>
<text transform="translate(718.2,3095.0) scale(0.955,1)" style="font-family:'Liberation Serif',serif;font-weight:bold;font-size:72.5px" text-anchor="middle">Wavelength (nm)</text>
<text transform="translate(73,2211.6) rotate(-90) scale(0.947,1)" style="font-family:'Liberation Serif',serif;font-weight:bold;font-size:72.5px" text-anchor="middle">Norm. Absorbance</text>
<text x="1349.8" y="1438.0" style="font-family:'Liberation Serif',serif;font-weight:bold;font-size:57px" text-anchor="middle" >960</text>
<text x="1582.4" y="1438.0" style="font-family:'Liberation Serif',serif;font-weight:bold;font-size:57px" text-anchor="middle" >1000</text>
<text x="1814.9" y="1438.0" style="font-family:'Liberation Serif',serif;font-weight:bold;font-size:57px" text-anchor="middle" >1040</text>
<text x="2047.5" y="1438.0" style="font-family:'Liberation Serif',serif;font-weight:bold;font-size:57px" text-anchor="middle" >1080</text>
<text x="2280.0" y="1438.0" style="font-family:'Liberation Serif',serif;font-weight:bold;font-size:57px" text-anchor="middle" >1120</text>
<text transform="translate(1792.6,1548) scale(0.955,1)" style="font-family:'Liberation Serif',serif;font-weight:bold;font-size:72.5px" text-anchor="middle">Wavelength (nm)</text>
<text x="1349.8" y="2995.0" style="font-family:'Liberation Serif',serif;font-weight:bold;font-size:57px" text-anchor="middle" >960</text>
<text x="1582.4" y="2995.0" style="font-family:'Liberation Serif',serif;font-weight:bold;font-size:57px" text-anchor="middle" >1000</text>
<text x="1814.9" y="2995.0" style="font-family:'Liberation Serif',serif;font-weight:bold;font-size:57px" text-anchor="middle" >1040</text>
<text x="2047.5" y="2995.0" style="font-family:'Liberation Serif',serif;font-weight:bold;font-size:57px" text-anchor="middle" >1080</text>
<text x="2280.0" y="2995.0" style="font-family:'Liberation Serif',serif;font-weight:bold;font-size:57px" text-anchor="middle" >1120</text>
<text transform="translate(1792.6,3105.0) scale(0.955,1)" style="font-family:'Liberation Serif',serif;font-weight:bold;font-size:72.5px" text-anchor="middle">Wavelength (nm)</text>
<line x1="283" y1="115.9" x2="439" y2="115.9" stroke="#000" stroke-width="6" stroke-linecap="round"/>
<line x1="283" y1="210" x2="439" y2="210" stroke="#f00" stroke-width="6" stroke-linecap="round"/>
<text x="458.0" y="141.0" style="font-family:'Liberation Sans',Arial,sans-serif;font-size:72px" text-anchor="start" >RT</text>
<text style="font-family:'Liberation Sans',Arial,sans-serif"><tspan x="458" y="234" style="font-size:71px">80</tspan><tspan x="535" y="207.5" style="font-size:50px">o</tspan><tspan x="578" y="234" style="font-size:72px"> </tspan><tspan x="578" y="234" style="font-size:72px">C</tspan></text>
<line x1="283" y1="1672.9" x2="439" y2="1672.9" stroke="#000" stroke-width="6" stroke-linecap="round"/>
<line x1="283" y1="1767.0" x2="439" y2="1767.0" stroke="#f00" stroke-width="6" stroke-linecap="round"/>
<text x="458.0" y="1698.0" style="font-family:'Liberation Sans',Arial,sans-serif;font-size:72px" text-anchor="start" >RT</text>
<text style="font-family:'Liberation Sans',Arial,sans-serif"><tspan x="458" y="1791.0" style="font-size:71px">80</tspan><tspan x="535" y="1764.5" style="font-size:50px">o</tspan><tspan x="578" y="1791.0" style="font-size:72px"> </tspan><tspan x="578" y="1791.0" style="font-size:72px">C</tspan></text>
<path d="M1570.1,101.4 L1665.2,77.3 L1665.2,94.2 L1884,94.2 L1884,108.4 L1665.2,108.4 L1665.2,125.1 Z" fill="#00f"/>
<text x="1908.0" y="129.0" style="font-family:'Liberation Sans',Arial,sans-serif;font-weight:bold;fill:#00f;font-size:89px" text-anchor="start" >20 nm</text>
<path d="M1570.1,1658.4 L1665.2,1634.3 L1665.2,1651.2 L1884,1651.2 L1884,1665.4 L1665.2,1665.4 L1665.2,1682.1 Z" fill="#00f"/>
<text x="1908.0" y="1686.0" style="font-family:'Liberation Sans',Arial,sans-serif;font-weight:bold;fill:#00f;font-size:89px" text-anchor="start" >30 nm</text>
<text x="290.0" y="1256.5" style="font-family:'DejaVu Sans Condensed','DejaVu Sans',sans-serif;font-stretch:condensed;font-weight:bold;font-size:129px" text-anchor="start" >a</text>
<text x="1458.0" y="1257.0" style="font-family:'DejaVu Sans Condensed','DejaVu Sans',sans-serif;font-stretch:condensed;font-weight:bold;font-size:129px" text-anchor="start" >b</text>
<text x="290.0" y="2820.0" style="font-family:'DejaVu Sans Condensed','DejaVu Sans',sans-serif;font-stretch:condensed;font-weight:bold;font-size:129px" text-anchor="start" >c</text>
<text x="1382.0" y="2818.5" style="font-family:'DejaVu Sans Condensed','DejaVu Sans',sans-serif;font-stretch:condensed;font-weight:bold;font-size:129px" text-anchor="start" >d</text>
</svg></body></html>
